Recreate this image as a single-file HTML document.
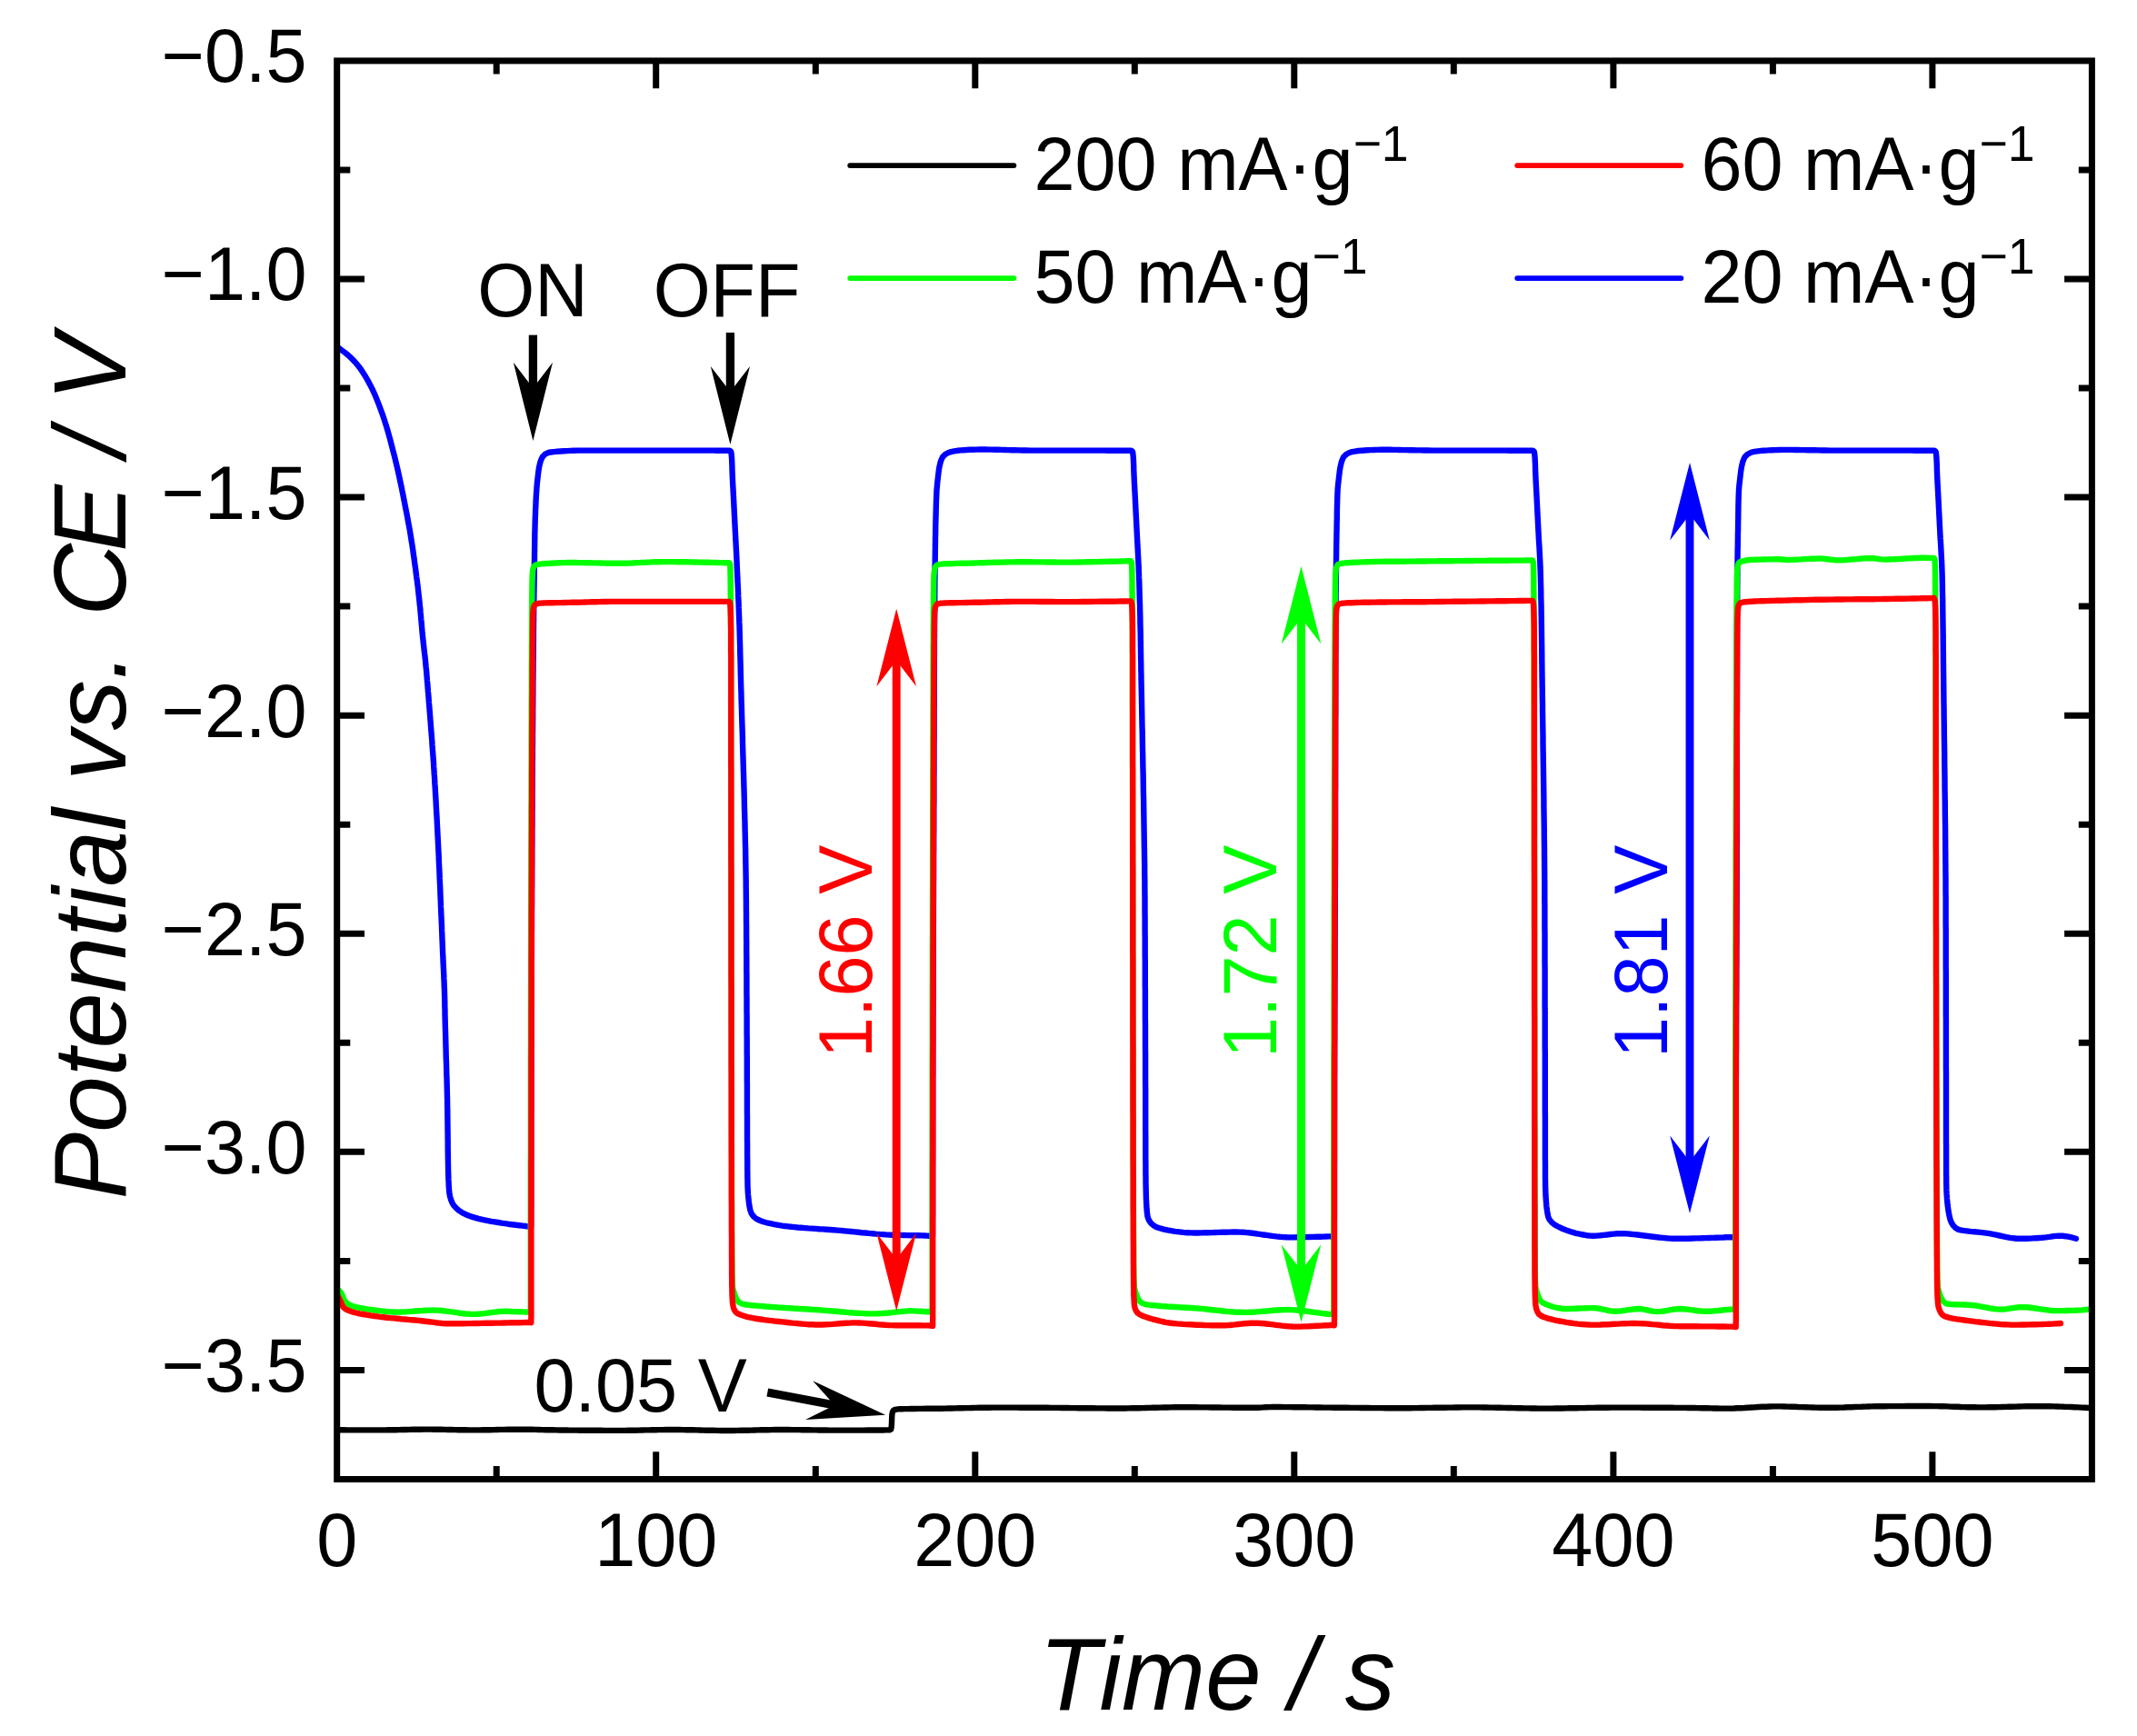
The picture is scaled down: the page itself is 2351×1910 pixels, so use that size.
<!DOCTYPE html>
<html lang="en"><head><meta charset="utf-8"><title>Potential vs. CE / V - Time / s</title>
<style>html,body{margin:0;padding:0;background:#fff}svg{display:block}text{font-family:"Liberation Sans",Arial,Helvetica,sans-serif;}</style></head><body>
<svg width="2351" height="1910" viewBox="0 0 2351 1910">
<rect width="2351" height="1910" fill="#fff"/>
<defs><clipPath id="pc"><rect x="370.7" y="66.9" width="1930.7" height="1560.6"/></clipPath></defs>
<g clip-path="url(#pc)" fill="none" stroke-width="6.4" stroke-linejoin="round" stroke-linecap="round">
<path stroke="#000" d="M370.7 1573.3 L374.5 1573.3 L378.3 1573.3 L382.0 1573.4 L385.8 1573.4 L389.6 1573.4 L393.4 1573.4 L397.2 1573.4 L401.0 1573.4 L404.8 1573.4 L408.6 1573.4 L412.4 1573.4 L416.2 1573.4 L420.0 1573.4 L423.8 1573.4 L427.7 1573.3 L431.5 1573.3 L435.4 1573.2 L439.2 1573.1 L443.1 1573.0 L446.9 1573.0 L450.8 1572.9 L454.6 1572.8 L458.5 1572.7 L462.3 1572.7 L466.2 1572.6 L470.0 1572.6 L473.8 1572.6 L477.7 1572.7 L481.5 1572.7 L485.4 1572.8 L489.2 1572.9 L493.1 1573.0 L496.9 1573.0 L500.8 1573.1 L504.6 1573.2 L508.5 1573.3 L512.3 1573.3 L516.2 1573.4 L520.0 1573.4 L523.8 1573.4 L527.7 1573.4 L531.5 1573.3 L535.4 1573.2 L539.2 1573.2 L543.1 1573.1 L546.9 1573.0 L550.8 1572.9 L554.6 1572.9 L558.5 1572.8 L562.3 1572.7 L566.2 1572.7 L570.0 1572.7 L573.8 1572.7 L577.6 1572.7 L581.4 1572.8 L585.2 1572.8 L589.0 1572.9 L592.8 1573.0 L596.6 1573.1 L600.4 1573.2 L604.3 1573.2 L608.2 1573.3 L612.1 1573.4 L616.0 1573.5 L620.0 1573.5 L623.6 1573.5 L627.2 1573.6 L630.9 1573.6 L634.6 1573.6 L638.3 1573.7 L642.1 1573.7 L645.9 1573.7 L649.7 1573.8 L653.5 1573.8 L657.3 1573.8 L661.1 1573.8 L664.9 1573.9 L668.7 1573.9 L672.5 1573.9 L676.2 1573.9 L680.0 1573.9 L683.8 1573.9 L687.5 1573.9 L691.3 1573.8 L695.0 1573.8 L698.8 1573.7 L702.5 1573.6 L706.3 1573.5 L710.0 1573.4 L713.8 1573.4 L717.5 1573.3 L721.3 1573.2 L725.0 1573.1 L728.8 1573.1 L732.5 1573.0 L736.3 1573.0 L740.0 1573.0 L743.8 1573.0 L747.5 1573.0 L751.3 1573.1 L755.0 1573.2 L758.8 1573.2 L762.5 1573.3 L766.3 1573.4 L770.0 1573.5 L773.8 1573.6 L777.5 1573.7 L781.3 1573.8 L785.0 1573.8 L788.8 1573.9 L792.5 1574.0 L796.3 1574.0 L800.0 1574.0 L803.7 1574.0 L807.5 1574.0 L811.2 1573.9 L815.0 1573.8 L818.7 1573.8 L822.5 1573.7 L826.2 1573.6 L830.0 1573.5 L833.7 1573.4 L837.5 1573.3 L841.2 1573.2 L845.0 1573.2 L848.7 1573.1 L852.5 1573.0 L856.2 1573.0 L860.0 1573.0 L863.8 1573.0 L867.5 1573.0 L871.3 1573.1 L875.0 1573.1 L878.8 1573.1 L882.6 1573.2 L886.4 1573.2 L890.1 1573.3 L893.9 1573.4 L897.7 1573.4 L901.4 1573.5 L905.1 1573.5 L908.9 1573.5 L912.6 1573.6 L916.3 1573.6 L920.0 1573.6 L923.9 1573.6 L928.1 1573.6 L932.4 1573.6 L936.9 1573.6 L941.4 1573.6 L945.8 1573.6 L950.3 1573.6 L954.5 1573.5 L958.6 1573.5 L962.5 1573.5 L966.1 1573.5 L969.2 1573.5 L972.0 1573.5 L974.3 1573.4 L976.0 1573.4 L978.7 1573.2 L980.2 1572.6 L980.7 1570.0 L981.0 1566.0 L981.1 1562.7 L981.2 1559.1 L981.4 1556.0 L982.0 1553.4 L983.0 1551.6 L984.9 1550.8 L988.0 1550.4 L989.9 1550.3 L992.3 1550.2 L995.1 1550.1 L998.4 1550.1 L1002.0 1550.0 L1005.9 1550.0 L1010.1 1549.9 L1014.3 1549.9 L1018.7 1549.8 L1023.1 1549.8 L1027.5 1549.8 L1031.9 1549.7 L1036.0 1549.7 L1040.0 1549.6 L1043.6 1549.5 L1047.3 1549.5 L1051.0 1549.4 L1054.7 1549.3 L1058.4 1549.2 L1062.2 1549.1 L1065.9 1549.1 L1069.7 1549.0 L1073.5 1548.9 L1077.3 1548.8 L1081.1 1548.8 L1084.9 1548.7 L1088.7 1548.7 L1092.5 1548.6 L1096.2 1548.6 L1100.0 1548.6 L1103.7 1548.6 L1107.5 1548.6 L1111.2 1548.6 L1114.9 1548.6 L1118.6 1548.6 L1122.3 1548.7 L1126.0 1548.7 L1129.7 1548.7 L1133.4 1548.7 L1137.2 1548.7 L1140.9 1548.8 L1144.7 1548.8 L1148.5 1548.8 L1152.3 1548.8 L1156.1 1548.9 L1160.0 1548.9 L1163.8 1548.9 L1167.5 1549.0 L1171.4 1549.0 L1175.2 1549.0 L1179.0 1549.1 L1182.9 1549.1 L1186.8 1549.2 L1190.7 1549.2 L1194.7 1549.3 L1198.6 1549.3 L1202.5 1549.3 L1206.5 1549.4 L1210.4 1549.4 L1214.3 1549.4 L1218.3 1549.5 L1222.2 1549.5 L1226.1 1549.5 L1230.0 1549.5 L1233.9 1549.5 L1237.8 1549.5 L1241.6 1549.4 L1245.5 1549.3 L1249.3 1549.3 L1253.2 1549.2 L1257.0 1549.1 L1260.9 1549.0 L1264.7 1548.9 L1268.6 1548.8 L1272.4 1548.7 L1276.3 1548.6 L1280.2 1548.5 L1284.1 1548.5 L1288.1 1548.4 L1292.0 1548.3 L1296.0 1548.3 L1300.0 1548.3 L1303.8 1548.3 L1307.6 1548.3 L1311.6 1548.3 L1315.7 1548.3 L1319.9 1548.4 L1324.1 1548.4 L1328.4 1548.4 L1332.6 1548.5 L1336.9 1548.5 L1341.1 1548.5 L1345.3 1548.6 L1349.4 1548.6 L1353.5 1548.6 L1357.4 1548.7 L1361.2 1548.7 L1364.8 1548.7 L1368.3 1548.8 L1371.5 1548.8 L1374.6 1548.8 L1377.4 1548.8 L1380.0 1548.8 L1383.9 1548.7 L1387.2 1548.6 L1390.1 1548.4 L1393.1 1548.2 L1396.2 1548.1 L1400.0 1548.0 L1402.8 1548.0 L1405.8 1548.0 L1409.0 1548.0 L1412.4 1548.1 L1415.9 1548.1 L1419.6 1548.1 L1423.4 1548.2 L1427.3 1548.2 L1431.3 1548.3 L1435.4 1548.3 L1439.5 1548.4 L1443.6 1548.4 L1447.7 1548.5 L1451.9 1548.5 L1456.0 1548.6 L1460.0 1548.6 L1463.6 1548.6 L1467.2 1548.7 L1470.8 1548.7 L1474.5 1548.7 L1478.2 1548.8 L1482.0 1548.8 L1485.8 1548.9 L1489.6 1548.9 L1493.5 1548.9 L1497.3 1549.0 L1501.2 1549.0 L1505.1 1549.0 L1509.0 1549.1 L1512.9 1549.1 L1516.8 1549.1 L1520.7 1549.1 L1524.6 1549.2 L1528.5 1549.2 L1532.3 1549.2 L1536.2 1549.2 L1540.0 1549.2 L1543.8 1549.2 L1547.6 1549.2 L1551.4 1549.2 L1555.2 1549.1 L1559.0 1549.1 L1562.9 1549.0 L1566.7 1549.0 L1570.5 1548.9 L1574.3 1548.9 L1578.1 1548.8 L1581.9 1548.8 L1585.7 1548.7 L1589.5 1548.7 L1593.3 1548.6 L1597.1 1548.6 L1601.0 1548.5 L1604.8 1548.5 L1608.6 1548.4 L1612.4 1548.4 L1616.2 1548.4 L1620.0 1548.4 L1623.8 1548.4 L1627.6 1548.4 L1631.4 1548.5 L1635.2 1548.5 L1639.0 1548.6 L1642.9 1548.6 L1646.7 1548.7 L1650.5 1548.8 L1654.3 1548.9 L1658.1 1549.0 L1661.9 1549.0 L1665.7 1549.1 L1669.5 1549.2 L1673.3 1549.3 L1677.1 1549.4 L1681.0 1549.4 L1684.8 1549.5 L1688.6 1549.5 L1692.4 1549.6 L1696.2 1549.6 L1700.0 1549.6 L1703.8 1549.6 L1707.6 1549.6 L1711.4 1549.5 L1715.2 1549.5 L1719.0 1549.5 L1722.9 1549.4 L1726.7 1549.3 L1730.5 1549.3 L1734.3 1549.2 L1738.1 1549.1 L1741.9 1549.1 L1745.7 1549.0 L1749.5 1548.9 L1753.3 1548.9 L1757.1 1548.8 L1761.0 1548.7 L1764.8 1548.7 L1768.6 1548.7 L1772.4 1548.6 L1776.2 1548.6 L1780.0 1548.6 L1783.8 1548.6 L1787.7 1548.6 L1791.7 1548.6 L1795.7 1548.6 L1799.7 1548.6 L1803.7 1548.6 L1807.7 1548.7 L1811.8 1548.7 L1815.8 1548.7 L1819.8 1548.7 L1823.8 1548.7 L1827.7 1548.8 L1831.6 1548.8 L1835.5 1548.8 L1839.2 1548.8 L1842.9 1548.9 L1846.6 1548.9 L1850.1 1548.9 L1853.5 1548.9 L1856.8 1549.0 L1860.0 1549.0 L1864.1 1549.0 L1868.0 1549.1 L1871.7 1549.2 L1875.2 1549.2 L1878.7 1549.3 L1882.1 1549.4 L1885.5 1549.5 L1889.0 1549.5 L1892.5 1549.6 L1896.2 1549.6 L1900.0 1549.6 L1903.7 1549.6 L1907.4 1549.5 L1911.2 1549.3 L1915.1 1549.2 L1919.0 1549.0 L1922.9 1548.7 L1926.9 1548.5 L1931.0 1548.3 L1935.0 1548.0 L1939.0 1547.8 L1943.1 1547.7 L1947.1 1547.5 L1951.0 1547.4 L1955.0 1547.4 L1958.9 1547.4 L1962.8 1547.5 L1966.7 1547.6 L1970.6 1547.7 L1974.5 1547.8 L1978.4 1548.0 L1982.4 1548.1 L1986.3 1548.2 L1990.2 1548.4 L1994.1 1548.5 L1998.1 1548.6 L2002.0 1548.7 L2006.0 1548.8 L2010.0 1548.8 L2013.7 1548.8 L2017.4 1548.7 L2021.2 1548.7 L2024.9 1548.6 L2028.7 1548.5 L2032.6 1548.3 L2036.4 1548.2 L2040.2 1548.0 L2044.0 1547.9 L2047.8 1547.8 L2051.6 1547.6 L2055.3 1547.5 L2059.1 1547.4 L2062.7 1547.3 L2066.4 1547.2 L2070.0 1547.2 L2074.0 1547.2 L2077.9 1547.1 L2081.8 1547.1 L2085.6 1547.1 L2089.4 1547.1 L2093.1 1547.1 L2096.9 1547.0 L2100.6 1547.0 L2104.4 1547.0 L2108.2 1547.0 L2112.1 1547.0 L2116.0 1547.0 L2120.0 1547.0 L2123.6 1547.0 L2127.2 1547.1 L2130.9 1547.1 L2134.6 1547.2 L2138.3 1547.3 L2142.1 1547.4 L2145.9 1547.6 L2149.7 1547.7 L2153.5 1547.8 L2157.3 1548.0 L2161.1 1548.1 L2164.9 1548.2 L2168.7 1548.3 L2172.5 1548.3 L2176.2 1548.4 L2180.0 1548.4 L2183.8 1548.4 L2187.5 1548.3 L2191.3 1548.3 L2195.0 1548.2 L2198.8 1548.1 L2202.5 1548.0 L2206.3 1547.9 L2210.1 1547.8 L2213.8 1547.7 L2217.6 1547.6 L2221.3 1547.5 L2225.1 1547.4 L2228.8 1547.3 L2232.5 1547.3 L2236.3 1547.2 L2240.0 1547.2 L2243.9 1547.2 L2247.8 1547.2 L2251.7 1547.3 L2255.6 1547.3 L2259.4 1547.4 L2263.3 1547.5 L2267.2 1547.6 L2271.1 1547.8 L2274.9 1547.9 L2278.8 1548.0 L2282.6 1548.2 L2286.5 1548.4 L2290.3 1548.6 L2294.2 1548.8 L2298.0 1549.0"/>
<path stroke="#0000ff" d="M368.0 379.4 L371.0 381.6 L374.2 384.0 L376.8 386.0 L379.6 388.0 L382.3 390.2 L385.0 392.6 L387.7 395.2 L390.3 398.0 L392.4 400.4 L394.5 403.0 L396.5 405.7 L398.4 408.4 L400.2 411.2 L402.0 414.1 L403.7 417.0 L405.3 419.9 L406.8 422.7 L408.3 425.6 L409.7 428.4 L411.1 431.4 L412.6 434.7 L414.0 438.1 L415.4 441.6 L416.8 445.2 L418.0 448.3 L419.2 451.6 L420.4 454.8 L421.5 458.1 L422.6 461.3 L423.8 465.1 L425.0 468.8 L426.1 472.5 L427.2 476.3 L428.1 479.7 L429.1 483.1 L430.0 486.6 L430.9 490.1 L431.8 493.6 L432.7 497.2 L433.7 500.9 L434.6 504.5 L435.5 508.2 L436.4 512.0 L437.2 515.4 L438.0 518.8 L438.7 522.2 L439.5 525.7 L440.2 529.3 L441.0 532.8 L441.8 536.5 L442.5 540.2 L443.3 543.9 L444.0 547.7 L444.8 551.7 L445.6 555.8 L446.2 559.0 L446.9 562.3 L447.5 565.7 L448.2 569.1 L448.8 572.6 L449.5 576.3 L450.2 580.0 L450.9 583.8 L451.5 587.8 L452.2 591.9 L452.7 595.2 L453.3 598.7 L453.8 602.3 L454.4 606.1 L454.9 610.0 L455.5 614.0 L456.0 618.0 L456.6 622.2 L457.2 626.3 L457.7 630.5 L458.2 634.6 L458.8 638.7 L459.3 642.7 L459.8 646.6 L460.2 650.5 L460.6 654.2 L461.0 657.7 L461.4 661.1 L461.8 665.4 L462.3 669.6 L462.6 673.7 L463.0 677.7 L463.3 681.5 L463.7 685.3 L464.0 689.0 L464.3 692.7 L464.6 696.4 L465.0 700.0 L465.4 703.9 L465.8 707.6 L466.2 711.2 L466.6 714.8 L467.0 718.4 L467.5 722.1 L467.9 726.0 L468.3 730.2 L468.6 733.6 L469.0 737.1 L469.3 740.8 L469.6 744.6 L469.9 748.5 L470.3 752.4 L470.6 756.5 L470.9 760.6 L471.3 764.7 L471.6 768.8 L471.9 773.0 L472.3 777.1 L472.6 781.2 L472.9 785.3 L473.2 789.1 L473.5 792.8 L473.8 796.6 L474.1 800.4 L474.4 804.2 L474.7 808.0 L475.0 811.8 L475.3 815.6 L475.5 819.5 L475.8 823.4 L476.1 827.3 L476.4 831.2 L476.7 835.2 L477.0 839.3 L477.2 843.4 L477.5 847.5 L477.7 851.2 L478.0 854.9 L478.2 858.7 L478.4 862.5 L478.7 866.4 L478.9 870.3 L479.1 874.3 L479.4 878.2 L479.6 882.2 L479.8 886.2 L480.0 890.3 L480.2 894.3 L480.5 898.4 L480.7 902.4 L480.9 906.4 L481.1 910.5 L481.3 914.5 L481.5 918.5 L481.7 922.5 L481.9 926.5 L482.1 930.4 L482.3 934.3 L482.5 938.3 L482.7 942.3 L482.8 946.3 L483.0 950.3 L483.2 954.4 L483.4 958.5 L483.6 962.6 L483.7 966.7 L483.9 970.7 L484.1 974.7 L484.3 978.7 L484.4 982.6 L484.6 986.5 L484.7 990.3 L484.9 994.0 L485.0 997.7 L485.2 1001.2 L485.3 1004.6 L485.5 1007.9 L485.6 1011.1 L485.8 1015.5 L486.0 1019.7 L486.1 1023.7 L486.3 1027.5 L486.4 1031.3 L486.6 1035.0 L486.7 1038.6 L486.9 1042.3 L487.0 1046.1 L487.2 1050.0 L487.4 1053.7 L487.5 1057.5 L487.7 1061.3 L487.9 1065.2 L488.1 1069.0 L488.3 1072.9 L488.4 1076.7 L488.6 1080.5 L488.7 1084.3 L488.9 1088.0 L489.0 1091.7 L489.1 1095.3 L489.2 1098.8 L489.3 1102.3 L489.3 1105.6 L489.4 1109.0 L489.5 1112.4 L489.5 1116.0 L489.6 1119.7 L489.7 1123.6 L489.8 1127.8 L489.9 1130.9 L490.0 1134.2 L490.1 1137.6 L490.2 1141.2 L490.3 1144.9 L490.4 1148.8 L490.5 1152.7 L490.6 1156.8 L490.7 1160.9 L490.8 1165.1 L491.0 1169.3 L491.1 1173.5 L491.2 1177.8 L491.3 1182.1 L491.5 1186.4 L491.6 1190.6 L491.7 1194.9 L491.8 1199.0 L491.9 1203.1 L492.0 1207.1 L492.1 1211.0 L492.1 1214.8 L492.2 1218.5 L492.3 1222.7 L492.3 1226.9 L492.4 1231.2 L492.4 1235.5 L492.5 1239.9 L492.5 1244.2 L492.6 1248.4 L492.6 1252.6 L492.7 1256.7 L492.7 1260.7 L492.7 1264.5 L492.8 1268.2 L492.8 1271.7 L492.9 1275.0 L492.9 1278.0 L493.0 1280.8 L493.0 1283.3 L493.1 1287.5 L493.2 1291.0 L493.3 1294.3 L493.4 1297.7 L493.6 1301.3 L493.7 1305.0 L494.0 1308.6 L494.3 1312.1 L495.0 1316.1 L496.1 1320.0 L497.6 1323.6 L499.3 1326.4 L501.8 1329.1 L504.6 1331.6 L507.7 1333.7 L510.3 1335.2 L513.2 1336.5 L516.3 1337.8 L519.6 1338.9 L523.0 1339.9 L526.5 1340.9 L529.8 1341.7 L533.2 1342.4 L536.9 1343.1 L540.6 1343.8 L544.3 1344.4 L548.1 1345.0 L551.7 1345.6 L555.3 1346.1 L559.2 1346.7 L563.3 1347.2 L567.4 1347.7 L571.4 1348.2 L575.0 1348.6 L578.1 1349.0 L580.4 1349.3 L582.9 1349.6 L584.1 1349.8 L584.1 1349.6 L584.1 1349.1 L584.2 1348.1 L584.2 1346.9 L584.2 1345.3 L584.2 1343.4 L584.2 1341.2 L584.2 1338.8 L584.2 1336.0 L584.2 1333.0 L584.2 1329.8 L584.3 1326.3 L584.3 1322.6 L584.3 1318.7 L584.3 1314.6 L584.3 1310.3 L584.3 1305.9 L584.3 1301.3 L584.3 1296.6 L584.3 1291.8 L584.3 1286.9 L584.3 1281.8 L584.3 1276.7 L584.3 1271.6 L584.3 1266.3 L584.3 1261.1 L584.3 1255.8 L584.3 1250.5 L584.3 1245.2 L584.3 1239.9 L584.3 1234.7 L584.3 1229.5 L584.4 1224.3 L584.4 1219.3 L584.4 1214.3 L584.4 1209.4 L584.4 1204.6 L584.4 1200.0 L584.4 1193.8 L584.4 1187.4 L584.4 1180.8 L584.5 1174.1 L584.5 1167.2 L584.5 1160.3 L584.5 1153.1 L584.5 1145.9 L584.6 1138.6 L584.6 1131.1 L584.6 1123.6 L584.6 1116.0 L584.7 1108.3 L584.7 1100.5 L584.7 1092.7 L584.7 1084.8 L584.8 1076.8 L584.8 1068.9 L584.8 1060.9 L584.9 1052.8 L584.9 1044.8 L584.9 1036.8 L584.9 1028.7 L585.0 1020.7 L585.0 1012.7 L585.0 1004.7 L585.1 996.7 L585.1 988.8 L585.1 980.9 L585.2 973.1 L585.2 965.4 L585.2 957.7 L585.3 950.1 L585.3 942.6 L585.3 935.3 L585.4 928.0 L585.4 920.8 L585.4 913.7 L585.5 906.8 L585.5 900.0 L585.5 894.5 L585.6 889.0 L585.6 883.5 L585.6 878.0 L585.6 872.5 L585.7 867.0 L585.7 861.5 L585.7 856.0 L585.8 850.5 L585.8 845.0 L585.8 839.6 L585.9 834.2 L585.9 828.7 L585.9 823.4 L586.0 818.0 L586.0 812.7 L586.0 807.4 L586.1 802.1 L586.1 796.9 L586.2 791.7 L586.2 786.5 L586.2 781.4 L586.3 776.3 L586.3 771.3 L586.3 766.4 L586.4 761.5 L586.4 756.6 L586.4 751.8 L586.5 747.1 L586.5 742.4 L586.6 737.8 L586.6 733.3 L586.6 728.9 L586.7 724.5 L586.7 720.2 L586.8 716.0 L586.8 711.9 L586.8 707.8 L586.9 703.9 L586.9 700.0 L586.9 695.4 L587.0 690.9 L587.0 686.5 L587.1 682.2 L587.1 677.9 L587.2 673.7 L587.2 669.6 L587.3 665.5 L587.3 661.6 L587.4 657.7 L587.4 653.8 L587.5 650.1 L587.5 646.4 L587.6 642.8 L587.6 639.3 L587.7 635.8 L587.7 632.4 L587.8 629.1 L587.8 625.8 L587.9 622.6 L587.9 619.5 L588.0 615.2 L588.0 611.0 L588.1 607.1 L588.1 603.3 L588.2 599.6 L588.2 596.0 L588.3 592.4 L588.3 588.8 L588.4 585.1 L588.5 581.4 L588.6 577.5 L588.7 573.6 L588.8 569.6 L589.0 565.5 L589.1 561.5 L589.3 557.6 L589.5 553.8 L589.6 550.1 L589.8 546.6 L590.0 543.4 L590.3 539.1 L590.6 535.2 L590.9 531.4 L591.3 527.8 L591.7 524.4 L592.1 521.0 L592.5 517.7 L593.0 514.6 L593.6 511.7 L594.4 508.4 L595.5 505.4 L596.8 502.8 L599.5 499.9 L603.1 498.0 L606.0 497.5 L609.3 497.1 L613.0 496.8 L616.9 496.5 L620.3 496.3 L623.8 496.1 L627.4 495.9 L631.3 495.7 L635.5 495.6 L639.9 495.6 L642.8 495.6 L645.9 495.6 L649.2 495.6 L652.5 495.6 L656.0 495.6 L659.6 495.6 L663.3 495.6 L667.2 495.6 L671.1 495.6 L675.0 495.6 L679.1 495.6 L683.2 495.6 L687.4 495.6 L691.6 495.6 L695.9 495.6 L699.3 495.6 L703.1 495.6 L707.0 495.6 L711.3 495.6 L715.7 495.6 L720.3 495.6 L725.0 495.6 L729.9 495.6 L734.8 495.6 L739.7 495.6 L744.7 495.6 L749.7 495.6 L754.6 495.6 L759.5 495.6 L764.2 495.6 L768.8 495.6 L773.3 495.6 L777.5 495.6 L781.5 495.6 L785.3 495.6 L788.7 495.7 L791.9 495.7 L794.7 495.7 L797.1 495.7 L799.1 495.7 L800.6 495.7 L801.7 495.7 L803.1 496.0 L804.0 496.6 L804.4 497.8 L804.7 500.2 L805.0 503.5 L805.2 507.4 L805.4 511.9 L805.5 516.7 L805.7 521.6 L805.9 526.3 L806.1 530.7 L806.3 534.3 L806.5 537.9 L806.7 541.7 L806.9 545.5 L807.1 549.4 L807.3 553.4 L807.5 557.4 L807.7 561.4 L807.9 565.5 L808.1 569.5 L808.3 573.5 L808.5 577.5 L808.7 581.4 L808.9 585.3 L809.1 589.1 L809.3 593.0 L809.5 596.8 L809.7 600.6 L809.9 604.5 L810.1 608.3 L810.3 612.2 L810.5 616.1 L810.6 620.0 L810.8 624.0 L811.0 628.0 L811.2 632.1 L811.4 635.9 L811.5 639.8 L811.7 643.7 L811.9 647.7 L812.1 651.8 L812.2 655.9 L812.4 660.0 L812.6 664.1 L812.7 668.2 L812.9 672.2 L813.0 676.3 L813.2 680.3 L813.3 684.2 L813.5 688.1 L813.6 691.8 L813.7 695.5 L813.8 699.4 L813.9 703.0 L814.0 706.5 L814.1 709.8 L814.2 713.1 L814.2 716.4 L814.3 719.8 L814.4 723.3 L814.5 727.0 L814.6 731.0 L814.7 735.3 L814.8 740.0 L814.9 743.6 L815.0 747.5 L815.1 751.6 L815.2 756.0 L815.4 760.6 L815.5 765.5 L815.6 770.5 L815.8 775.8 L816.0 781.3 L816.1 786.9 L816.3 792.7 L816.5 798.7 L816.7 804.8 L816.9 811.1 L817.0 817.5 L817.2 824.0 L817.4 830.6 L817.6 837.2 L817.8 844.0 L818.0 850.8 L818.2 857.7 L818.4 864.6 L818.6 871.5 L818.8 878.5 L818.9 885.4 L819.1 892.4 L819.3 899.3 L819.5 906.2 L819.6 913.0 L819.8 919.8 L819.9 926.5 L820.1 933.2 L820.2 939.7 L820.3 946.2 L820.4 952.5 L820.5 958.7 L820.6 964.8 L820.7 970.7 L820.7 976.4 L820.8 982.0 L820.8 986.6 L820.9 991.1 L820.9 995.6 L820.9 1000.0 L821.0 1004.5 L821.0 1008.9 L821.0 1013.3 L821.1 1017.6 L821.1 1022.0 L821.1 1026.3 L821.1 1030.6 L821.2 1034.9 L821.2 1039.1 L821.2 1043.4 L821.2 1047.6 L821.3 1051.8 L821.3 1056.0 L821.3 1060.1 L821.3 1064.3 L821.3 1068.4 L821.4 1072.6 L821.4 1076.7 L821.4 1080.8 L821.4 1084.9 L821.4 1089.0 L821.4 1093.1 L821.5 1097.2 L821.5 1101.2 L821.5 1105.3 L821.5 1109.4 L821.5 1113.4 L821.6 1117.5 L821.6 1121.5 L821.6 1125.6 L821.6 1129.7 L821.6 1133.7 L821.6 1137.8 L821.7 1141.9 L821.7 1145.9 L821.7 1150.0 L821.7 1154.1 L821.7 1158.3 L821.8 1162.5 L821.8 1166.7 L821.8 1171.1 L821.8 1175.4 L821.8 1179.8 L821.8 1184.2 L821.8 1188.7 L821.9 1193.1 L821.9 1197.6 L821.9 1202.1 L821.9 1206.6 L821.9 1211.0 L821.9 1215.5 L821.9 1219.9 L821.9 1224.3 L822.0 1228.7 L822.0 1233.0 L822.0 1237.3 L822.0 1241.6 L822.0 1245.7 L822.0 1249.9 L822.0 1253.9 L822.1 1257.9 L822.1 1261.8 L822.1 1265.6 L822.1 1269.3 L822.1 1272.9 L822.2 1276.4 L822.2 1279.8 L822.2 1283.1 L822.2 1286.3 L822.3 1289.3 L822.3 1292.2 L822.3 1295.0 L822.4 1297.6 L822.4 1300.0 L822.5 1305.0 L822.7 1309.8 L823.0 1314.3 L823.4 1318.4 L823.8 1322.2 L824.3 1325.7 L824.8 1328.8 L825.4 1331.5 L826.7 1335.1 L828.8 1338.1 L831.4 1340.5 L833.6 1341.8 L836.4 1343.0 L839.7 1344.2 L843.5 1345.3 L847.6 1346.2 L851.9 1347.1 L856.3 1347.9 L860.6 1348.6 L863.7 1349.0 L867.0 1349.4 L870.5 1349.8 L874.0 1350.1 L877.7 1350.5 L881.5 1350.8 L885.4 1351.1 L889.4 1351.4 L893.3 1351.6 L897.4 1351.9 L901.4 1352.2 L905.4 1352.4 L909.4 1352.7 L913.4 1353.0 L917.3 1353.3 L921.1 1353.6 L924.9 1353.9 L928.7 1354.3 L932.6 1354.6 L936.5 1355.0 L940.4 1355.4 L944.3 1355.8 L948.2 1356.2 L952.1 1356.5 L956.0 1356.9 L959.8 1357.2 L963.6 1357.6 L967.4 1357.9 L971.0 1358.1 L974.6 1358.4 L978.2 1358.6 L981.6 1358.7 L985.7 1358.8 L990.0 1358.9 L994.4 1359.0 L998.7 1359.1 L1003.0 1359.2 L1007.1 1359.3 L1010.9 1359.3 L1014.4 1359.4 L1017.4 1359.5 L1020.0 1359.6 L1021.9 1359.7 L1024.6 1360.0 L1025.9 1360.2 L1025.9 1360.0 L1025.9 1359.5 L1026.0 1358.6 L1026.0 1357.4 L1026.0 1355.8 L1026.0 1354.0 L1026.0 1351.8 L1026.0 1349.4 L1026.0 1346.7 L1026.0 1343.8 L1026.0 1340.6 L1026.1 1337.2 L1026.1 1333.5 L1026.1 1329.7 L1026.1 1325.7 L1026.1 1321.4 L1026.1 1317.1 L1026.1 1312.5 L1026.1 1307.9 L1026.1 1303.1 L1026.1 1298.1 L1026.1 1293.1 L1026.1 1288.0 L1026.1 1282.8 L1026.1 1277.6 L1026.1 1272.3 L1026.1 1267.0 L1026.1 1261.6 L1026.1 1256.2 L1026.1 1250.9 L1026.1 1245.5 L1026.1 1240.2 L1026.1 1234.9 L1026.2 1229.6 L1026.2 1224.5 L1026.2 1219.4 L1026.2 1214.4 L1026.2 1209.4 L1026.2 1204.7 L1026.2 1200.0 L1026.2 1193.6 L1026.2 1187.1 L1026.3 1180.5 L1026.3 1173.7 L1026.3 1166.7 L1026.3 1159.7 L1026.3 1152.5 L1026.4 1145.2 L1026.4 1137.9 L1026.4 1130.4 L1026.4 1122.8 L1026.5 1115.2 L1026.5 1107.5 L1026.5 1099.7 L1026.6 1091.9 L1026.6 1084.0 L1026.6 1076.1 L1026.6 1068.2 L1026.7 1060.2 L1026.7 1052.2 L1026.7 1044.2 L1026.8 1036.2 L1026.8 1028.2 L1026.8 1020.2 L1026.9 1012.2 L1026.9 1004.3 L1026.9 996.3 L1027.0 988.5 L1027.0 980.7 L1027.0 972.9 L1027.1 965.2 L1027.1 957.6 L1027.1 950.0 L1027.1 942.5 L1027.2 935.2 L1027.2 927.9 L1027.2 920.7 L1027.3 913.7 L1027.3 906.8 L1027.3 900.0 L1027.3 894.5 L1027.3 889.0 L1027.4 883.5 L1027.4 878.0 L1027.4 872.5 L1027.4 867.0 L1027.4 861.5 L1027.4 856.0 L1027.5 850.5 L1027.5 845.0 L1027.5 839.6 L1027.5 834.2 L1027.5 828.7 L1027.5 823.4 L1027.5 818.0 L1027.6 812.7 L1027.6 807.4 L1027.6 802.1 L1027.6 796.9 L1027.6 791.7 L1027.6 786.5 L1027.6 781.4 L1027.7 776.3 L1027.7 771.3 L1027.7 766.4 L1027.7 761.5 L1027.7 756.6 L1027.7 751.8 L1027.8 747.1 L1027.8 742.4 L1027.8 737.8 L1027.8 733.3 L1027.8 728.9 L1027.8 724.5 L1027.9 720.2 L1027.9 716.0 L1027.9 711.9 L1027.9 707.8 L1027.9 703.9 L1028.0 700.0 L1028.0 695.4 L1028.0 690.9 L1028.0 686.5 L1028.1 682.2 L1028.1 677.9 L1028.1 673.7 L1028.2 669.6 L1028.2 665.5 L1028.2 661.6 L1028.3 657.7 L1028.3 653.8 L1028.3 650.1 L1028.4 646.4 L1028.4 642.8 L1028.4 639.3 L1028.5 635.8 L1028.5 632.4 L1028.5 629.1 L1028.6 625.8 L1028.6 622.6 L1028.7 619.5 L1028.7 615.2 L1028.8 611.0 L1028.8 607.1 L1028.9 603.3 L1028.9 599.6 L1029.0 596.0 L1029.0 592.4 L1029.1 588.8 L1029.2 585.1 L1029.2 581.4 L1029.3 577.5 L1029.4 573.6 L1029.5 569.6 L1029.6 565.5 L1029.7 561.5 L1029.8 557.6 L1029.9 553.8 L1030.0 550.1 L1030.2 546.6 L1030.3 543.4 L1030.5 539.1 L1030.9 535.2 L1031.2 531.4 L1031.6 527.8 L1032.0 524.4 L1032.4 521.0 L1032.8 517.7 L1033.3 514.6 L1033.9 511.7 L1034.7 508.4 L1035.8 505.4 L1037.1 502.8 L1039.8 500.0 L1043.4 498.0 L1046.3 497.1 L1049.6 496.4 L1053.3 495.8 L1057.2 495.4 L1060.2 495.2 L1063.4 495.0 L1066.7 494.8 L1070.2 494.7 L1073.8 494.6 L1077.7 494.5 L1081.7 494.5 L1084.7 494.5 L1087.8 494.6 L1091.1 494.6 L1094.5 494.7 L1098.0 494.8 L1101.6 494.9 L1105.3 495.0 L1109.1 495.1 L1112.9 495.2 L1116.9 495.3 L1120.9 495.4 L1125.1 495.5 L1129.2 495.5 L1133.4 495.6 L1137.7 495.6 L1141.1 495.6 L1144.9 495.6 L1148.8 495.6 L1153.1 495.6 L1157.5 495.6 L1162.1 495.6 L1166.8 495.6 L1171.7 495.6 L1176.6 495.6 L1181.5 495.6 L1186.5 495.6 L1191.5 495.6 L1196.4 495.6 L1201.3 495.6 L1206.0 495.6 L1210.6 495.6 L1215.1 495.6 L1219.3 495.7 L1223.3 495.7 L1227.1 495.7 L1230.5 495.7 L1233.7 495.7 L1236.5 495.7 L1238.9 495.7 L1240.9 495.7 L1242.4 495.7 L1243.5 495.7 L1244.9 496.0 L1245.8 496.6 L1246.2 497.8 L1246.5 500.2 L1246.8 503.5 L1247.0 507.4 L1247.2 511.9 L1247.3 516.7 L1247.5 521.6 L1247.7 526.3 L1247.9 530.7 L1248.1 534.3 L1248.3 537.9 L1248.5 541.7 L1248.7 545.5 L1248.9 549.4 L1249.1 553.4 L1249.3 557.4 L1249.5 561.4 L1249.7 565.5 L1249.9 569.5 L1250.1 573.5 L1250.3 577.5 L1250.5 581.4 L1250.7 585.3 L1250.9 589.1 L1251.1 593.0 L1251.3 596.8 L1251.5 600.6 L1251.7 604.5 L1251.9 608.3 L1252.1 612.2 L1252.3 616.1 L1252.5 620.0 L1252.7 624.0 L1252.8 628.0 L1253.0 632.1 L1253.1 635.9 L1253.3 639.8 L1253.4 643.7 L1253.5 647.7 L1253.6 651.8 L1253.7 655.9 L1253.8 660.0 L1254.0 664.1 L1254.1 668.2 L1254.2 672.2 L1254.3 676.3 L1254.4 680.3 L1254.4 684.2 L1254.5 688.1 L1254.6 691.8 L1254.7 695.5 L1254.8 699.4 L1254.8 703.0 L1254.9 706.5 L1254.9 709.8 L1255.0 713.1 L1255.0 716.4 L1255.1 719.8 L1255.1 723.3 L1255.2 727.0 L1255.3 731.0 L1255.3 735.3 L1255.4 740.0 L1255.5 743.6 L1255.5 747.5 L1255.6 751.6 L1255.7 756.0 L1255.8 760.6 L1255.9 765.5 L1256.0 770.5 L1256.1 775.8 L1256.2 781.3 L1256.3 786.9 L1256.4 792.7 L1256.5 798.7 L1256.7 804.8 L1256.8 811.1 L1256.9 817.5 L1257.0 824.0 L1257.2 830.6 L1257.3 837.3 L1257.4 844.0 L1257.6 850.8 L1257.7 857.7 L1257.8 864.6 L1257.9 871.5 L1258.1 878.5 L1258.2 885.4 L1258.3 892.4 L1258.4 899.3 L1258.5 906.2 L1258.6 913.0 L1258.7 919.8 L1258.8 926.5 L1258.9 933.2 L1259.0 939.7 L1259.1 946.2 L1259.2 952.5 L1259.2 958.7 L1259.3 964.8 L1259.4 970.7 L1259.4 976.4 L1259.4 982.0 L1259.5 986.6 L1259.5 991.1 L1259.5 995.6 L1259.5 1000.0 L1259.5 1004.5 L1259.6 1008.9 L1259.6 1013.3 L1259.6 1017.6 L1259.6 1022.0 L1259.6 1026.3 L1259.7 1030.6 L1259.7 1034.9 L1259.7 1039.1 L1259.7 1043.4 L1259.7 1047.6 L1259.7 1051.8 L1259.8 1056.0 L1259.8 1060.1 L1259.8 1064.3 L1259.8 1068.4 L1259.8 1072.6 L1259.8 1076.7 L1259.8 1080.8 L1259.8 1084.9 L1259.9 1089.0 L1259.9 1093.1 L1259.9 1097.2 L1259.9 1101.2 L1259.9 1105.3 L1259.9 1109.4 L1259.9 1113.4 L1259.9 1117.5 L1259.9 1121.5 L1260.0 1125.6 L1260.0 1129.7 L1260.0 1133.7 L1260.0 1137.8 L1260.0 1141.9 L1260.0 1145.9 L1260.0 1150.0 L1260.0 1154.1 L1260.1 1158.2 L1260.1 1162.4 L1260.1 1166.7 L1260.1 1170.9 L1260.1 1175.3 L1260.1 1179.6 L1260.1 1184.0 L1260.1 1188.4 L1260.1 1192.8 L1260.2 1197.2 L1260.2 1201.6 L1260.2 1206.0 L1260.2 1210.4 L1260.2 1214.8 L1260.2 1219.2 L1260.2 1223.5 L1260.2 1227.8 L1260.2 1232.1 L1260.2 1236.4 L1260.2 1240.6 L1260.2 1244.7 L1260.3 1248.8 L1260.3 1252.8 L1260.3 1256.8 L1260.3 1260.7 L1260.3 1264.5 L1260.3 1268.3 L1260.3 1271.9 L1260.3 1275.5 L1260.4 1279.0 L1260.4 1282.3 L1260.4 1285.6 L1260.4 1288.7 L1260.4 1291.7 L1260.5 1294.6 L1260.5 1297.4 L1260.5 1300.0 L1260.6 1304.8 L1260.7 1309.5 L1260.8 1314.0 L1260.9 1318.3 L1261.1 1322.3 L1261.3 1326.1 L1261.5 1329.6 L1261.8 1332.9 L1262.1 1335.8 L1262.5 1338.4 L1263.7 1342.0 L1265.8 1345.3 L1268.7 1348.0 L1271.9 1349.9 L1274.2 1350.8 L1277.2 1351.7 L1280.6 1352.6 L1284.3 1353.4 L1288.4 1354.1 L1292.7 1354.8 L1297.2 1355.4 L1301.7 1355.9 L1306.1 1356.2 L1310.4 1356.4 L1314.5 1356.5 L1318.2 1356.5 L1322.0 1356.4 L1325.7 1356.3 L1329.4 1356.2 L1333.2 1356.1 L1336.9 1356.0 L1340.7 1355.9 L1344.6 1355.8 L1348.4 1355.7 L1352.3 1355.6 L1356.3 1355.5 L1360.3 1355.5 L1364.0 1355.6 L1367.9 1355.8 L1371.8 1356.1 L1375.7 1356.5 L1379.7 1357.0 L1383.8 1357.6 L1387.8 1358.2 L1391.9 1358.7 L1396.0 1359.3 L1400.0 1359.9 L1404.0 1360.4 L1407.9 1360.8 L1411.8 1361.1 L1415.6 1361.3 L1419.3 1361.4 L1423.4 1361.4 L1427.6 1361.3 L1432.0 1361.2 L1436.4 1361.1 L1440.7 1361.0 L1444.9 1360.9 L1449.0 1360.8 L1452.7 1360.7 L1456.1 1360.6 L1459.1 1360.5 L1461.6 1360.4 L1463.5 1360.4 L1466.3 1360.7 L1467.7 1360.9 L1467.7 1360.7 L1467.7 1360.2 L1467.8 1359.3 L1467.8 1358.1 L1467.8 1356.5 L1467.8 1354.6 L1467.8 1352.5 L1467.8 1350.1 L1467.8 1347.4 L1467.8 1344.4 L1467.8 1341.2 L1467.9 1337.8 L1467.9 1334.1 L1467.9 1330.2 L1467.9 1326.2 L1467.9 1322.0 L1467.9 1317.6 L1467.9 1313.0 L1467.9 1308.3 L1467.9 1303.5 L1467.9 1298.5 L1467.9 1293.5 L1467.9 1288.4 L1467.9 1283.2 L1467.9 1277.9 L1467.9 1272.6 L1467.9 1267.2 L1467.9 1261.8 L1467.9 1256.5 L1467.9 1251.1 L1467.9 1245.7 L1467.9 1240.3 L1467.9 1235.0 L1468.0 1229.7 L1468.0 1224.6 L1468.0 1219.4 L1468.0 1214.4 L1468.0 1209.5 L1468.0 1204.7 L1468.0 1200.0 L1468.0 1193.6 L1468.0 1187.1 L1468.1 1180.4 L1468.1 1173.6 L1468.1 1166.7 L1468.1 1159.6 L1468.1 1152.5 L1468.2 1145.2 L1468.2 1137.8 L1468.2 1130.3 L1468.3 1122.8 L1468.3 1115.1 L1468.3 1107.4 L1468.4 1099.7 L1468.4 1091.8 L1468.4 1084.0 L1468.5 1076.1 L1468.5 1068.1 L1468.5 1060.1 L1468.6 1052.1 L1468.6 1044.1 L1468.6 1036.1 L1468.7 1028.1 L1468.7 1020.1 L1468.7 1012.2 L1468.8 1004.2 L1468.8 996.3 L1468.8 988.5 L1468.8 980.6 L1468.9 972.9 L1468.9 965.2 L1468.9 957.6 L1469.0 950.0 L1469.0 942.5 L1469.0 935.2 L1469.0 927.9 L1469.1 920.7 L1469.1 913.7 L1469.1 906.8 L1469.1 900.0 L1469.1 894.5 L1469.1 889.0 L1469.1 883.5 L1469.1 878.0 L1469.1 872.5 L1469.2 867.0 L1469.2 861.5 L1469.2 856.0 L1469.2 850.5 L1469.2 845.0 L1469.2 839.6 L1469.2 834.2 L1469.2 828.7 L1469.2 823.4 L1469.2 818.0 L1469.2 812.7 L1469.2 807.4 L1469.2 802.1 L1469.2 796.9 L1469.2 791.7 L1469.3 786.5 L1469.3 781.4 L1469.3 776.3 L1469.3 771.3 L1469.3 766.4 L1469.3 761.5 L1469.3 756.6 L1469.3 751.8 L1469.3 747.1 L1469.3 742.4 L1469.3 737.8 L1469.3 733.3 L1469.3 728.9 L1469.3 724.5 L1469.3 720.2 L1469.4 716.0 L1469.4 711.9 L1469.4 707.8 L1469.4 703.9 L1469.4 700.0 L1469.4 695.4 L1469.4 690.9 L1469.4 686.5 L1469.5 682.2 L1469.5 677.9 L1469.5 673.7 L1469.5 669.6 L1469.6 665.5 L1469.6 661.6 L1469.6 657.7 L1469.6 653.8 L1469.7 650.1 L1469.7 646.4 L1469.7 642.8 L1469.8 639.3 L1469.8 635.8 L1469.8 632.4 L1469.9 629.1 L1469.9 625.8 L1469.9 622.6 L1470.0 619.5 L1470.0 615.2 L1470.1 611.0 L1470.1 607.1 L1470.2 603.3 L1470.2 599.6 L1470.3 596.0 L1470.4 592.4 L1470.4 588.8 L1470.5 585.1 L1470.6 581.4 L1470.6 577.5 L1470.7 573.6 L1470.8 569.6 L1470.8 565.5 L1470.9 561.5 L1471.0 557.6 L1471.1 553.8 L1471.2 550.1 L1471.3 546.6 L1471.4 543.4 L1471.6 539.1 L1471.9 535.2 L1472.3 531.4 L1472.7 527.8 L1473.1 524.4 L1473.5 521.0 L1473.9 517.7 L1474.4 514.6 L1475.0 511.7 L1475.8 508.4 L1476.9 505.4 L1478.2 502.8 L1480.9 500.0 L1484.5 498.0 L1487.4 497.2 L1490.7 496.6 L1494.4 496.0 L1498.3 495.7 L1501.4 495.5 L1504.6 495.3 L1508.1 495.1 L1511.6 495.0 L1515.4 494.9 L1519.3 494.8 L1523.5 494.8 L1526.5 494.8 L1529.7 494.8 L1532.9 494.9 L1536.3 494.9 L1539.8 495.0 L1543.4 495.1 L1547.1 495.1 L1550.9 495.2 L1554.8 495.3 L1558.7 495.4 L1562.8 495.4 L1566.9 495.5 L1571.0 495.5 L1575.2 495.6 L1579.5 495.6 L1582.9 495.6 L1586.7 495.6 L1590.6 495.6 L1594.9 495.6 L1599.3 495.6 L1603.9 495.6 L1608.6 495.6 L1613.5 495.6 L1618.4 495.6 L1623.3 495.6 L1628.3 495.6 L1633.3 495.6 L1638.2 495.6 L1643.1 495.6 L1647.8 495.6 L1652.4 495.6 L1656.9 495.6 L1661.1 495.7 L1665.1 495.7 L1668.9 495.7 L1672.3 495.7 L1675.5 495.7 L1678.3 495.7 L1680.7 495.7 L1682.7 495.7 L1684.2 495.7 L1685.3 495.7 L1686.7 496.0 L1687.6 496.6 L1688.0 497.8 L1688.3 500.2 L1688.6 503.5 L1688.8 507.4 L1689.0 511.9 L1689.1 516.7 L1689.3 521.6 L1689.5 526.3 L1689.7 530.7 L1689.9 534.3 L1690.1 537.9 L1690.3 541.7 L1690.5 545.5 L1690.7 549.4 L1690.9 553.4 L1691.1 557.4 L1691.3 561.4 L1691.5 565.5 L1691.7 569.5 L1691.9 573.5 L1692.1 577.5 L1692.3 581.4 L1692.5 585.3 L1692.7 589.1 L1692.9 593.0 L1693.1 596.8 L1693.4 600.6 L1693.6 604.5 L1693.8 608.3 L1694.0 612.2 L1694.2 616.1 L1694.4 620.0 L1694.5 624.0 L1694.7 628.0 L1694.8 632.1 L1694.9 635.9 L1695.0 639.8 L1695.1 643.7 L1695.2 647.7 L1695.3 651.8 L1695.3 655.8 L1695.4 660.0 L1695.5 664.1 L1695.6 668.2 L1695.6 672.2 L1695.7 676.3 L1695.8 680.3 L1695.8 684.2 L1695.9 688.1 L1695.9 691.8 L1696.0 695.5 L1696.0 699.4 L1696.1 703.0 L1696.1 706.5 L1696.2 709.8 L1696.2 713.1 L1696.2 716.4 L1696.3 719.8 L1696.3 723.3 L1696.3 727.0 L1696.4 731.0 L1696.4 735.3 L1696.5 740.0 L1696.5 743.6 L1696.6 747.5 L1696.6 751.6 L1696.7 756.0 L1696.8 760.6 L1696.8 765.5 L1696.9 770.5 L1697.0 775.8 L1697.0 781.3 L1697.1 786.9 L1697.2 792.7 L1697.3 798.7 L1697.4 804.8 L1697.5 811.1 L1697.5 817.5 L1697.6 824.0 L1697.7 830.6 L1697.8 837.3 L1697.9 844.0 L1698.0 850.8 L1698.1 857.7 L1698.2 864.6 L1698.3 871.5 L1698.4 878.5 L1698.4 885.4 L1698.5 892.4 L1698.6 899.3 L1698.7 906.2 L1698.8 913.0 L1698.8 919.8 L1698.9 926.5 L1699.0 933.2 L1699.0 939.7 L1699.1 946.2 L1699.1 952.5 L1699.2 958.7 L1699.2 964.8 L1699.3 970.7 L1699.3 976.4 L1699.3 982.0 L1699.3 986.6 L1699.3 991.1 L1699.4 995.6 L1699.4 1000.0 L1699.4 1004.5 L1699.4 1008.9 L1699.4 1013.3 L1699.4 1017.6 L1699.4 1022.0 L1699.5 1026.3 L1699.5 1030.6 L1699.5 1034.9 L1699.5 1039.1 L1699.5 1043.4 L1699.5 1047.6 L1699.5 1051.8 L1699.5 1056.0 L1699.5 1060.1 L1699.6 1064.3 L1699.6 1068.4 L1699.6 1072.6 L1699.6 1076.7 L1699.6 1080.8 L1699.6 1084.9 L1699.6 1089.0 L1699.6 1093.1 L1699.6 1097.2 L1699.6 1101.2 L1699.6 1105.3 L1699.6 1109.4 L1699.7 1113.4 L1699.7 1117.5 L1699.7 1121.5 L1699.7 1125.6 L1699.7 1129.7 L1699.7 1133.7 L1699.7 1137.8 L1699.7 1141.9 L1699.7 1145.9 L1699.7 1150.0 L1699.7 1154.1 L1699.8 1158.2 L1699.8 1162.4 L1699.8 1166.7 L1699.8 1170.9 L1699.8 1175.3 L1699.8 1179.6 L1699.8 1184.0 L1699.8 1188.4 L1699.8 1192.8 L1699.8 1197.2 L1699.8 1201.6 L1699.8 1206.0 L1699.8 1210.4 L1699.8 1214.8 L1699.8 1219.1 L1699.8 1223.5 L1699.9 1227.8 L1699.9 1232.1 L1699.9 1236.3 L1699.9 1240.5 L1699.9 1244.7 L1699.9 1248.8 L1699.9 1252.8 L1699.9 1256.8 L1699.9 1260.7 L1699.9 1264.5 L1699.9 1268.2 L1699.9 1271.9 L1699.9 1275.5 L1700.0 1278.9 L1700.0 1282.3 L1700.0 1285.5 L1700.0 1288.7 L1700.0 1291.7 L1700.0 1294.6 L1700.0 1297.4 L1700.1 1300.0 L1700.1 1304.9 L1700.3 1309.6 L1700.4 1314.2 L1700.7 1318.5 L1701.0 1322.7 L1701.3 1326.5 L1701.7 1330.1 L1702.2 1333.3 L1702.7 1336.2 L1703.2 1338.7 L1704.7 1342.0 L1707.2 1344.9 L1710.4 1347.4 L1714.0 1349.5 L1716.4 1350.7 L1719.2 1352.0 L1722.5 1353.3 L1726.0 1354.5 L1729.7 1355.7 L1733.6 1356.8 L1737.6 1357.7 L1741.6 1358.5 L1745.5 1359.2 L1749.2 1359.6 L1752.7 1359.7 L1756.6 1359.6 L1760.4 1359.3 L1764.0 1358.9 L1767.7 1358.5 L1771.4 1358.0 L1775.2 1357.6 L1779.2 1357.3 L1783.5 1357.2 L1786.8 1357.3 L1790.2 1357.4 L1793.7 1357.7 L1797.4 1358.1 L1801.2 1358.5 L1805.1 1359.0 L1809.0 1359.5 L1813.1 1360.0 L1817.1 1360.5 L1821.2 1361.0 L1825.3 1361.5 L1829.4 1361.9 L1833.4 1362.3 L1837.5 1362.6 L1841.4 1362.7 L1845.3 1362.8 L1849.2 1362.8 L1853.4 1362.7 L1857.7 1362.7 L1862.2 1362.5 L1866.7 1362.4 L1871.3 1362.3 L1875.8 1362.1 L1880.2 1362.0 L1884.5 1361.9 L1888.5 1361.7 L1892.3 1361.6 L1895.8 1361.5 L1898.9 1361.3 L1901.6 1361.3 L1903.8 1361.2 L1905.5 1361.2 L1908.2 1361.5 L1909.5 1361.7 L1909.5 1361.5 L1909.5 1361.0 L1909.6 1360.1 L1909.6 1358.8 L1909.6 1357.3 L1909.6 1355.4 L1909.6 1353.3 L1909.6 1350.8 L1909.6 1348.1 L1909.6 1345.1 L1909.6 1341.9 L1909.7 1338.4 L1909.7 1334.8 L1909.7 1330.9 L1909.7 1326.8 L1909.7 1322.5 L1909.7 1318.1 L1909.7 1313.5 L1909.7 1308.8 L1909.7 1304.0 L1909.7 1299.0 L1909.7 1294.0 L1909.7 1288.8 L1909.7 1283.6 L1909.7 1278.3 L1909.7 1272.9 L1909.7 1267.5 L1909.7 1262.1 L1909.7 1256.7 L1909.7 1251.3 L1909.7 1245.9 L1909.7 1240.5 L1909.7 1235.2 L1909.8 1229.9 L1909.8 1224.7 L1909.8 1219.5 L1909.8 1214.5 L1909.8 1209.5 L1909.8 1204.7 L1909.8 1200.0 L1909.8 1193.6 L1909.8 1187.1 L1909.9 1180.4 L1909.9 1173.6 L1909.9 1166.7 L1909.9 1159.6 L1910.0 1152.4 L1910.0 1145.1 L1910.0 1137.8 L1910.0 1130.3 L1910.1 1122.7 L1910.1 1115.1 L1910.1 1107.4 L1910.2 1099.6 L1910.2 1091.8 L1910.3 1083.9 L1910.3 1076.0 L1910.3 1068.1 L1910.4 1060.1 L1910.4 1052.1 L1910.4 1044.1 L1910.5 1036.1 L1910.5 1028.1 L1910.5 1020.1 L1910.6 1012.1 L1910.6 1004.2 L1910.6 996.3 L1910.7 988.4 L1910.7 980.6 L1910.7 972.9 L1910.8 965.2 L1910.8 957.5 L1910.8 950.0 L1910.8 942.5 L1910.8 935.2 L1910.9 927.9 L1910.9 920.7 L1910.9 913.7 L1910.9 906.8 L1910.9 900.0 L1910.9 894.5 L1910.9 889.0 L1910.9 883.5 L1910.9 878.0 L1910.9 872.5 L1910.9 867.0 L1910.9 861.5 L1910.9 856.0 L1910.9 850.5 L1910.9 845.0 L1910.9 839.6 L1910.9 834.2 L1910.9 828.7 L1910.9 823.4 L1910.9 818.0 L1910.9 812.7 L1910.9 807.4 L1910.9 802.1 L1910.9 796.9 L1910.9 791.7 L1910.9 786.5 L1911.0 781.4 L1911.0 776.3 L1911.0 771.3 L1911.0 766.4 L1911.0 761.5 L1911.0 756.6 L1911.0 751.8 L1911.0 747.1 L1911.0 742.4 L1911.0 737.8 L1911.0 733.3 L1911.0 728.9 L1911.0 724.5 L1911.0 720.2 L1911.0 716.0 L1911.0 711.9 L1911.0 707.8 L1911.0 703.9 L1911.0 700.0 L1911.0 695.4 L1911.0 690.9 L1911.0 686.5 L1911.0 682.2 L1911.1 677.9 L1911.1 673.7 L1911.1 669.6 L1911.1 665.5 L1911.1 661.6 L1911.2 657.7 L1911.2 653.8 L1911.2 650.1 L1911.2 646.4 L1911.3 642.8 L1911.3 639.3 L1911.3 635.8 L1911.4 632.4 L1911.4 629.1 L1911.4 625.8 L1911.4 622.6 L1911.5 619.5 L1911.5 615.2 L1911.6 611.0 L1911.6 607.1 L1911.7 603.3 L1911.8 599.6 L1911.8 596.0 L1911.9 592.4 L1911.9 588.8 L1912.0 585.1 L1912.1 581.4 L1912.1 577.5 L1912.2 573.6 L1912.3 569.6 L1912.3 565.5 L1912.4 561.5 L1912.4 557.6 L1912.5 553.8 L1912.6 550.1 L1912.7 546.6 L1912.8 543.4 L1913.0 539.1 L1913.3 535.2 L1913.7 531.4 L1914.1 527.8 L1914.5 524.4 L1914.9 521.0 L1915.3 517.7 L1915.8 514.6 L1916.4 511.7 L1917.2 508.4 L1918.3 505.4 L1919.6 502.8 L1922.3 500.0 L1925.9 498.0 L1928.8 497.2 L1932.1 496.6 L1935.8 496.1 L1939.7 495.8 L1942.8 495.6 L1946.1 495.4 L1949.6 495.2 L1953.3 495.1 L1957.1 495.0 L1961.1 494.9 L1965.3 494.9 L1968.3 494.9 L1971.5 494.9 L1974.8 495.0 L1978.2 495.0 L1981.7 495.1 L1985.3 495.1 L1989.0 495.2 L1992.7 495.3 L1996.6 495.3 L2000.6 495.4 L2004.6 495.5 L2008.7 495.5 L2012.8 495.6 L2017.0 495.6 L2021.3 495.6 L2024.7 495.6 L2028.5 495.6 L2032.4 495.6 L2036.7 495.6 L2041.1 495.6 L2045.7 495.6 L2050.4 495.6 L2055.3 495.6 L2060.2 495.6 L2065.1 495.6 L2070.1 495.6 L2075.1 495.6 L2080.0 495.6 L2084.9 495.6 L2089.6 495.6 L2094.2 495.6 L2098.7 495.6 L2102.9 495.6 L2106.9 495.7 L2110.7 495.7 L2114.1 495.7 L2117.3 495.7 L2120.1 495.7 L2122.5 495.7 L2124.5 495.7 L2126.0 495.7 L2127.1 495.7 L2128.5 496.0 L2129.4 496.6 L2129.8 497.8 L2130.1 500.2 L2130.4 503.5 L2130.6 507.4 L2130.8 511.9 L2130.9 516.7 L2131.1 521.6 L2131.3 526.3 L2131.5 530.7 L2131.7 534.3 L2131.9 537.9 L2132.1 541.7 L2132.3 545.5 L2132.5 549.4 L2132.7 553.4 L2132.9 557.4 L2133.1 561.4 L2133.3 565.5 L2133.5 569.5 L2133.7 573.5 L2133.9 577.5 L2134.1 581.4 L2134.3 585.3 L2134.5 589.1 L2134.7 593.0 L2135.0 596.8 L2135.2 600.6 L2135.4 604.5 L2135.6 608.3 L2135.8 612.2 L2136.0 616.1 L2136.2 620.0 L2136.3 624.0 L2136.5 628.0 L2136.6 632.1 L2136.7 635.9 L2136.8 639.8 L2136.9 643.7 L2136.9 647.7 L2137.0 651.8 L2137.1 655.8 L2137.2 660.0 L2137.2 664.1 L2137.3 668.2 L2137.3 672.2 L2137.4 676.3 L2137.4 680.3 L2137.5 684.2 L2137.5 688.1 L2137.6 691.8 L2137.6 695.5 L2137.7 699.4 L2137.7 703.0 L2137.7 706.5 L2137.8 709.8 L2137.8 713.1 L2137.8 716.4 L2137.9 719.8 L2137.9 723.3 L2137.9 727.0 L2138.0 731.0 L2138.0 735.3 L2138.1 740.0 L2138.1 743.6 L2138.2 747.5 L2138.2 751.6 L2138.3 756.0 L2138.3 760.6 L2138.4 765.5 L2138.4 770.5 L2138.5 775.8 L2138.6 781.3 L2138.6 786.9 L2138.7 792.7 L2138.8 798.7 L2138.8 804.8 L2138.9 811.1 L2139.0 817.5 L2139.1 824.0 L2139.2 830.6 L2139.2 837.3 L2139.3 844.0 L2139.4 850.8 L2139.5 857.7 L2139.5 864.6 L2139.6 871.5 L2139.7 878.5 L2139.8 885.4 L2139.8 892.4 L2139.9 899.3 L2140.0 906.2 L2140.1 913.0 L2140.1 919.8 L2140.2 926.5 L2140.2 933.2 L2140.3 939.7 L2140.3 946.2 L2140.4 952.5 L2140.4 958.7 L2140.5 964.8 L2140.5 970.7 L2140.5 976.4 L2140.5 982.0 L2140.6 986.6 L2140.6 991.1 L2140.6 995.6 L2140.6 1000.0 L2140.6 1004.5 L2140.6 1008.9 L2140.6 1013.3 L2140.6 1017.6 L2140.7 1022.0 L2140.7 1026.3 L2140.7 1030.6 L2140.7 1034.9 L2140.7 1039.1 L2140.7 1043.4 L2140.7 1047.6 L2140.7 1051.8 L2140.7 1056.0 L2140.7 1060.1 L2140.7 1064.3 L2140.8 1068.4 L2140.8 1072.6 L2140.8 1076.7 L2140.8 1080.8 L2140.8 1084.9 L2140.8 1089.0 L2140.8 1093.1 L2140.8 1097.2 L2140.8 1101.2 L2140.8 1105.3 L2140.8 1109.4 L2140.8 1113.4 L2140.8 1117.5 L2140.9 1121.5 L2140.9 1125.6 L2140.9 1129.7 L2140.9 1133.7 L2140.9 1137.8 L2140.9 1141.9 L2140.9 1145.9 L2140.9 1150.0 L2140.9 1154.1 L2140.9 1158.2 L2140.9 1162.4 L2140.9 1166.6 L2140.9 1170.9 L2140.9 1175.2 L2141.0 1179.5 L2141.0 1183.9 L2141.0 1188.2 L2141.0 1192.6 L2141.0 1197.0 L2141.0 1201.4 L2141.0 1205.8 L2141.0 1210.1 L2141.0 1214.5 L2141.0 1218.9 L2141.0 1223.2 L2141.0 1227.5 L2141.0 1231.7 L2141.0 1236.0 L2141.0 1240.2 L2141.0 1244.3 L2141.0 1248.4 L2141.0 1252.4 L2141.0 1256.4 L2141.1 1260.3 L2141.1 1264.1 L2141.1 1267.8 L2141.1 1271.5 L2141.1 1275.1 L2141.1 1278.6 L2141.1 1282.0 L2141.1 1285.3 L2141.1 1288.4 L2141.1 1291.5 L2141.2 1294.5 L2141.2 1297.3 L2141.2 1300.0 L2141.3 1304.8 L2141.4 1309.4 L2141.6 1313.9 L2141.9 1318.3 L2142.3 1322.4 L2142.7 1326.3 L2143.2 1330.0 L2143.7 1333.4 L2144.3 1336.5 L2144.9 1339.3 L2145.5 1341.8 L2146.9 1345.3 L2148.9 1348.4 L2151.4 1351.0 L2154.2 1352.6 L2156.8 1353.3 L2160.0 1353.9 L2163.7 1354.4 L2167.8 1354.9 L2172.1 1355.2 L2176.5 1355.6 L2180.8 1356.1 L2185.0 1356.6 L2188.6 1357.2 L2192.3 1357.9 L2196.1 1358.7 L2200.0 1359.5 L2203.8 1360.3 L2207.6 1361.1 L2211.4 1361.8 L2215.1 1362.3 L2218.7 1362.7 L2222.1 1362.8 L2225.9 1362.8 L2229.6 1362.7 L2233.2 1362.6 L2236.7 1362.4 L2240.1 1362.2 L2243.5 1362.0 L2246.8 1361.8 L2250.7 1361.4 L2254.4 1360.9 L2258.0 1360.3 L2261.6 1359.9 L2265.3 1359.7 L2269.0 1359.8 L2272.7 1360.2 L2276.5 1360.9 L2280.2 1361.7 L2283.9 1362.8"/>
<path stroke="#00ff00" d="M370.7 1418.0 L373.4 1420.3 L375.6 1423.0 L376.8 1425.6 L377.8 1428.5 L379.0 1431.0 L380.8 1433.0 L383.1 1434.8 L385.9 1436.3 L388.6 1437.3 L391.9 1438.2 L395.6 1439.0 L399.7 1439.7 L403.9 1440.4 L408.0 1441.0 L411.9 1441.5 L415.5 1441.9 L419.1 1442.4 L422.7 1442.7 L426.3 1443.1 L430.0 1443.4 L433.8 1443.5 L437.8 1443.6 L441.3 1443.5 L445.0 1443.4 L448.8 1443.1 L452.7 1442.9 L456.6 1442.5 L460.6 1442.2 L464.6 1442.0 L468.6 1441.7 L472.7 1441.6 L476.7 1441.5 L480.3 1441.6 L483.9 1441.8 L487.7 1442.2 L491.4 1442.6 L495.1 1443.2 L498.9 1443.7 L502.7 1444.2 L506.4 1444.8 L510.1 1445.2 L513.7 1445.6 L517.2 1445.8 L520.7 1445.9 L524.7 1445.8 L528.6 1445.5 L532.4 1445.1 L536.2 1444.6 L540.0 1444.1 L543.7 1443.6 L547.3 1443.2 L550.9 1442.9 L554.4 1442.8 L558.5 1442.8 L562.8 1443.0 L567.2 1443.1 L571.3 1443.3 L575.0 1443.4 L578.1 1443.6 L580.4 1443.6 L582.6 1443.6 L583.7 1443.6 L583.7 1443.3 L583.7 1442.5 L583.7 1441.2 L583.7 1439.4 L583.8 1437.1 L583.8 1434.3 L583.8 1431.1 L583.8 1427.5 L583.8 1423.5 L583.8 1419.1 L583.8 1414.3 L583.8 1409.2 L583.8 1403.7 L583.8 1397.9 L583.8 1391.9 L583.8 1385.6 L583.8 1379.0 L583.8 1372.2 L583.8 1365.1 L583.8 1357.9 L583.8 1350.5 L583.8 1342.9 L583.8 1335.2 L583.8 1327.3 L583.8 1319.4 L583.8 1311.3 L583.8 1303.2 L583.8 1295.0 L583.8 1286.8 L583.8 1278.6 L583.9 1270.4 L583.9 1262.3 L583.9 1254.1 L583.9 1246.1 L583.9 1238.1 L583.9 1230.2 L583.9 1222.4 L583.9 1214.8 L583.9 1207.3 L583.9 1200.0 L583.9 1188.8 L583.9 1176.8 L583.9 1164.1 L584.0 1150.8 L584.0 1136.9 L584.0 1122.4 L584.0 1107.5 L584.0 1092.0 L584.1 1076.2 L584.1 1060.0 L584.1 1043.5 L584.2 1026.8 L584.2 1009.8 L584.2 992.7 L584.3 975.4 L584.3 958.1 L584.3 940.8 L584.4 923.5 L584.4 906.3 L584.4 889.3 L584.5 872.4 L584.5 855.7 L584.6 839.3 L584.6 823.3 L584.6 807.6 L584.7 792.3 L584.7 777.6 L584.8 763.3 L584.8 749.6 L584.8 736.5 L584.9 724.1 L584.9 712.4 L585.0 701.5 L585.0 691.4 L585.1 682.2 L585.1 673.8 L585.2 666.5 L585.2 660.1 L585.3 654.8 L585.3 650.6 L585.4 645.8 L585.4 641.8 L585.5 638.4 L585.6 635.4 L585.7 632.6 L586.0 628.7 L586.5 625.6 L587.2 623.8 L588.1 622.4 L589.1 621.7 L590.4 621.2 L591.9 620.9 L593.9 620.6 L596.0 620.4 L598.9 620.2 L602.5 619.9 L606.5 619.7 L610.8 619.5 L615.4 619.3 L620.1 619.1 L624.7 619.0 L629.1 619.0 L632.7 619.0 L636.5 619.1 L640.3 619.1 L644.3 619.2 L648.3 619.3 L652.3 619.4 L656.4 619.4 L660.5 619.5 L664.6 619.6 L668.7 619.7 L672.8 619.7 L676.9 619.8 L680.9 619.8 L684.6 619.8 L688.3 619.7 L691.9 619.6 L695.5 619.5 L699.2 619.3 L702.8 619.1 L706.4 618.9 L710.1 618.8 L713.8 618.6 L717.5 618.4 L721.3 618.3 L725.1 618.2 L729.0 618.1 L732.9 618.1 L736.7 618.1 L740.8 618.1 L745.2 618.2 L749.9 618.3 L754.8 618.3 L759.7 618.4 L764.7 618.5 L769.6 618.6 L774.4 618.7 L779.1 618.8 L783.5 618.9 L787.6 619.0 L791.3 619.1 L794.6 619.1 L797.4 619.2 L799.5 619.3 L801.1 619.3 L801.9 619.3 L802.1 619.3 L802.3 619.3 L802.8 620.1 L803.2 621.8 L803.3 623.0 L803.4 624.8 L803.4 626.9 L803.5 629.5 L803.5 632.4 L803.6 635.7 L803.6 639.2 L803.7 643.1 L803.7 647.2 L803.8 651.6 L803.8 656.1 L803.8 660.8 L803.9 665.6 L803.9 670.5 L803.9 675.4 L803.9 680.4 L803.9 685.4 L804.0 690.3 L804.0 695.2 L804.0 700.0 L804.0 703.8 L804.0 707.7 L804.0 711.7 L804.0 715.7 L804.1 719.8 L804.1 723.9 L804.1 728.1 L804.1 732.4 L804.1 736.8 L804.1 741.2 L804.1 745.7 L804.1 750.2 L804.1 754.8 L804.1 759.5 L804.1 764.2 L804.1 769.0 L804.1 773.9 L804.2 778.8 L804.2 783.7 L804.2 788.7 L804.2 793.8 L804.2 798.9 L804.2 804.1 L804.2 809.4 L804.2 814.7 L804.2 820.0 L804.2 825.4 L804.2 830.8 L804.2 836.3 L804.2 841.9 L804.2 847.5 L804.2 853.1 L804.2 858.8 L804.2 864.6 L804.3 870.4 L804.3 876.2 L804.3 882.1 L804.3 888.0 L804.3 894.0 L804.3 900.0 L804.3 910.0 L804.3 920.7 L804.4 932.1 L804.4 944.2 L804.4 956.9 L804.4 970.1 L804.4 983.9 L804.4 998.1 L804.5 1012.7 L804.5 1027.7 L804.5 1043.0 L804.5 1058.5 L804.6 1074.3 L804.6 1090.3 L804.6 1106.3 L804.6 1122.5 L804.7 1138.6 L804.7 1154.7 L804.7 1170.8 L804.7 1186.7 L804.8 1202.5 L804.8 1218.0 L804.8 1233.3 L804.9 1248.3 L804.9 1262.9 L804.9 1277.0 L805.0 1290.8 L805.0 1304.0 L805.0 1316.6 L805.1 1328.6 L805.1 1340.0 L805.1 1350.7 L805.2 1360.6 L805.2 1369.8 L805.3 1378.0 L805.3 1385.4 L805.4 1391.9 L805.4 1397.3 L805.5 1401.7 L805.5 1405.0 L805.6 1409.5 L805.8 1412.8 L806.0 1416.0 L806.6 1419.3 L807.6 1422.6 L808.7 1425.5 L810.0 1428.8 L811.7 1431.5 L813.6 1433.2 L816.2 1434.5 L818.4 1435.0 L821.2 1435.5 L824.5 1435.9 L828.2 1436.3 L832.2 1436.6 L836.3 1436.9 L840.5 1437.3 L843.5 1437.6 L846.7 1437.8 L850.1 1438.1 L853.6 1438.3 L857.3 1438.6 L861.1 1438.8 L865.0 1439.1 L869.0 1439.3 L873.0 1439.6 L877.0 1439.8 L881.1 1440.1 L885.2 1440.3 L889.2 1440.5 L893.2 1440.8 L897.2 1441.0 L901.0 1441.3 L904.8 1441.6 L908.6 1441.9 L912.5 1442.2 L916.4 1442.5 L920.3 1442.8 L924.2 1443.2 L928.1 1443.5 L932.0 1443.9 L935.9 1444.2 L939.7 1444.5 L943.5 1444.7 L947.3 1444.9 L950.9 1445.1 L954.5 1445.3 L958.1 1445.4 L961.5 1445.4 L965.5 1445.3 L969.5 1445.1 L973.5 1444.8 L977.3 1444.5 L981.2 1444.1 L984.9 1443.6 L988.5 1443.2 L992.1 1442.9 L995.5 1442.6 L998.7 1442.4 L1001.8 1442.3 L1005.7 1442.4 L1009.6 1442.6 L1013.3 1442.8 L1016.7 1443.0 L1019.6 1443.2 L1021.9 1443.3 L1024.3 1443.3 L1025.5 1443.3 L1025.5 1443.0 L1025.5 1442.2 L1025.5 1440.9 L1025.5 1439.1 L1025.6 1436.8 L1025.6 1434.0 L1025.6 1430.8 L1025.6 1427.2 L1025.6 1423.2 L1025.6 1418.8 L1025.6 1414.0 L1025.6 1408.9 L1025.6 1403.5 L1025.6 1397.7 L1025.6 1391.7 L1025.6 1385.3 L1025.6 1378.8 L1025.6 1371.9 L1025.6 1364.9 L1025.6 1357.7 L1025.6 1350.3 L1025.6 1342.7 L1025.6 1335.0 L1025.6 1327.2 L1025.6 1319.2 L1025.6 1311.2 L1025.6 1303.1 L1025.6 1294.9 L1025.6 1286.8 L1025.6 1278.6 L1025.7 1270.4 L1025.7 1262.2 L1025.7 1254.1 L1025.7 1246.0 L1025.7 1238.0 L1025.7 1230.2 L1025.7 1222.4 L1025.7 1214.8 L1025.7 1207.3 L1025.7 1200.0 L1025.7 1188.8 L1025.7 1176.8 L1025.7 1164.1 L1025.8 1150.8 L1025.8 1136.9 L1025.8 1122.4 L1025.8 1107.5 L1025.8 1092.1 L1025.9 1076.2 L1025.9 1060.0 L1025.9 1043.5 L1026.0 1026.8 L1026.0 1009.8 L1026.0 992.7 L1026.1 975.5 L1026.1 958.2 L1026.1 940.8 L1026.2 923.6 L1026.2 906.4 L1026.2 889.3 L1026.3 872.4 L1026.3 855.7 L1026.4 839.4 L1026.4 823.3 L1026.4 807.6 L1026.5 792.4 L1026.5 777.6 L1026.6 763.3 L1026.6 749.6 L1026.6 736.5 L1026.7 724.1 L1026.7 712.5 L1026.8 701.5 L1026.8 691.4 L1026.9 682.2 L1026.9 673.8 L1027.0 666.5 L1027.0 660.1 L1027.1 654.8 L1027.1 650.6 L1027.2 645.8 L1027.2 641.8 L1027.3 638.4 L1027.4 635.4 L1027.5 632.6 L1027.8 628.7 L1028.3 625.6 L1029.0 623.8 L1029.9 622.4 L1030.9 621.7 L1032.2 621.2 L1033.7 620.9 L1035.7 620.6 L1037.8 620.4 L1040.7 620.3 L1044.3 620.2 L1048.3 620.1 L1052.6 619.9 L1057.2 619.8 L1061.9 619.7 L1066.5 619.6 L1070.9 619.5 L1074.5 619.4 L1078.3 619.3 L1082.2 619.2 L1086.1 619.0 L1090.1 618.9 L1094.1 618.8 L1098.2 618.7 L1102.3 618.6 L1106.4 618.5 L1110.5 618.4 L1114.6 618.4 L1118.7 618.3 L1122.7 618.3 L1126.4 618.3 L1130.1 618.3 L1133.7 618.3 L1137.3 618.4 L1141.0 618.4 L1144.6 618.4 L1148.2 618.4 L1151.9 618.5 L1155.6 618.5 L1159.3 618.5 L1163.1 618.6 L1166.9 618.6 L1170.8 618.6 L1174.7 618.6 L1178.5 618.6 L1182.6 618.6 L1187.0 618.5 L1191.7 618.4 L1196.6 618.3 L1201.5 618.2 L1206.5 618.1 L1211.4 618.0 L1216.2 617.9 L1220.9 617.8 L1225.3 617.7 L1229.4 617.6 L1233.1 617.5 L1236.4 617.4 L1239.2 617.3 L1241.3 617.2 L1242.9 617.2 L1243.7 617.2 L1243.9 617.2 L1244.1 617.2 L1244.6 618.0 L1245.0 619.7 L1245.1 620.9 L1245.1 622.5 L1245.2 624.6 L1245.3 627.0 L1245.3 629.8 L1245.4 632.9 L1245.4 636.3 L1245.5 640.0 L1245.5 644.0 L1245.5 648.1 L1245.6 652.5 L1245.6 657.0 L1245.6 661.6 L1245.7 666.4 L1245.7 671.2 L1245.7 676.0 L1245.7 680.9 L1245.8 685.8 L1245.8 690.6 L1245.8 695.3 L1245.8 700.0 L1245.8 703.8 L1245.8 707.8 L1245.8 711.7 L1245.8 715.8 L1245.9 719.9 L1245.9 724.1 L1245.9 728.3 L1245.9 732.6 L1245.9 737.0 L1245.9 741.4 L1245.9 745.9 L1245.9 750.4 L1245.9 755.0 L1245.9 759.7 L1245.9 764.4 L1245.9 769.2 L1245.9 774.0 L1245.9 778.9 L1246.0 783.9 L1246.0 788.9 L1246.0 794.0 L1246.0 799.1 L1246.0 804.3 L1246.0 809.5 L1246.0 814.8 L1246.0 820.1 L1246.0 825.5 L1246.0 830.9 L1246.0 836.4 L1246.0 842.0 L1246.0 847.6 L1246.0 853.2 L1246.0 858.9 L1246.0 864.6 L1246.1 870.4 L1246.1 876.2 L1246.1 882.1 L1246.1 888.0 L1246.1 894.0 L1246.1 900.0 L1246.1 910.0 L1246.1 920.7 L1246.2 932.1 L1246.2 944.2 L1246.2 956.9 L1246.2 970.1 L1246.2 983.9 L1246.3 998.1 L1246.3 1012.7 L1246.3 1027.7 L1246.3 1043.0 L1246.3 1058.5 L1246.4 1074.3 L1246.4 1090.3 L1246.4 1106.3 L1246.5 1122.5 L1246.5 1138.6 L1246.5 1154.7 L1246.5 1170.8 L1246.6 1186.7 L1246.6 1202.5 L1246.6 1218.0 L1246.7 1233.3 L1246.7 1248.3 L1246.7 1262.9 L1246.8 1277.0 L1246.8 1290.8 L1246.9 1304.0 L1246.9 1316.6 L1246.9 1328.6 L1247.0 1340.0 L1247.0 1350.7 L1247.1 1360.6 L1247.1 1369.8 L1247.2 1378.0 L1247.2 1385.4 L1247.2 1391.9 L1247.3 1397.3 L1247.3 1401.7 L1247.4 1405.0 L1247.5 1409.5 L1247.7 1412.8 L1247.9 1416.0 L1248.5 1419.3 L1249.5 1422.6 L1250.6 1425.5 L1251.9 1428.8 L1253.6 1431.5 L1255.5 1433.2 L1258.1 1434.5 L1260.6 1435.1 L1263.6 1435.6 L1267.2 1436.0 L1271.0 1436.4 L1275.0 1436.8 L1278.2 1437.1 L1281.7 1437.3 L1285.4 1437.6 L1289.2 1437.8 L1293.2 1438.0 L1297.4 1438.3 L1301.6 1438.5 L1305.9 1438.7 L1310.2 1439.0 L1314.5 1439.3 L1318.2 1439.6 L1322.0 1439.9 L1325.9 1440.3 L1329.8 1440.7 L1333.9 1441.2 L1337.9 1441.6 L1342.0 1442.0 L1346.1 1442.5 L1350.2 1442.9 L1354.3 1443.2 L1358.4 1443.5 L1362.4 1443.7 L1366.3 1443.8 L1370.1 1443.9 L1374.1 1443.8 L1378.0 1443.7 L1381.9 1443.4 L1385.7 1443.1 L1389.5 1442.8 L1393.3 1442.5 L1397.0 1442.1 L1400.8 1441.8 L1404.6 1441.5 L1408.4 1441.2 L1412.2 1441.1 L1416.0 1441.0 L1420.1 1441.1 L1424.5 1441.4 L1429.2 1441.8 L1433.9 1442.3 L1438.6 1442.8 L1443.3 1443.5 L1447.7 1444.1 L1451.9 1444.6 L1455.6 1445.1 L1458.9 1445.5 L1461.5 1445.8 L1463.5 1445.9 L1466.1 1445.9 L1467.3 1445.9 L1467.3 1445.6 L1467.3 1444.8 L1467.3 1443.5 L1467.3 1441.6 L1467.4 1439.3 L1467.4 1436.5 L1467.4 1433.3 L1467.4 1429.6 L1467.4 1425.6 L1467.4 1421.1 L1467.4 1416.3 L1467.4 1411.1 L1467.4 1405.6 L1467.4 1399.8 L1467.4 1393.7 L1467.4 1387.3 L1467.4 1380.6 L1467.4 1373.7 L1467.4 1366.6 L1467.4 1359.3 L1467.4 1351.8 L1467.4 1344.2 L1467.4 1336.4 L1467.4 1328.5 L1467.4 1320.4 L1467.4 1312.3 L1467.4 1304.1 L1467.4 1295.9 L1467.4 1287.6 L1467.4 1279.3 L1467.5 1271.1 L1467.5 1262.8 L1467.5 1254.6 L1467.5 1246.5 L1467.5 1238.4 L1467.5 1230.5 L1467.5 1222.6 L1467.5 1214.9 L1467.5 1207.4 L1467.5 1200.0 L1467.5 1188.7 L1467.5 1176.7 L1467.5 1164.0 L1467.6 1150.6 L1467.6 1136.7 L1467.6 1122.2 L1467.6 1107.2 L1467.6 1091.7 L1467.7 1075.8 L1467.7 1059.6 L1467.7 1043.1 L1467.8 1026.3 L1467.8 1009.3 L1467.8 992.1 L1467.9 974.9 L1467.9 957.5 L1467.9 940.2 L1468.0 922.9 L1468.0 905.6 L1468.0 888.5 L1468.1 871.6 L1468.1 855.0 L1468.2 838.5 L1468.2 822.5 L1468.2 806.8 L1468.3 791.5 L1468.3 776.7 L1468.4 762.4 L1468.4 748.7 L1468.4 735.6 L1468.5 723.2 L1468.5 711.5 L1468.6 700.6 L1468.6 690.5 L1468.7 681.2 L1468.7 672.9 L1468.8 665.5 L1468.8 659.1 L1468.9 653.8 L1468.9 649.6 L1469.0 644.8 L1469.0 640.8 L1469.1 637.4 L1469.2 634.4 L1469.3 631.6 L1469.6 627.7 L1470.1 624.6 L1470.8 622.8 L1471.7 621.4 L1472.7 620.7 L1474.0 620.2 L1475.5 619.9 L1477.5 619.6 L1479.6 619.4 L1482.5 619.2 L1486.1 619.0 L1490.1 618.8 L1494.4 618.6 L1499.0 618.4 L1503.7 618.2 L1508.3 618.1 L1512.7 618.0 L1516.3 617.9 L1520.1 617.9 L1523.9 617.8 L1527.9 617.8 L1531.9 617.8 L1535.9 617.7 L1540.0 617.7 L1544.1 617.7 L1548.2 617.6 L1552.3 617.6 L1556.4 617.6 L1560.5 617.5 L1564.5 617.5 L1568.2 617.5 L1571.9 617.4 L1575.5 617.4 L1579.1 617.4 L1582.8 617.3 L1586.4 617.3 L1590.0 617.2 L1593.7 617.2 L1597.4 617.2 L1601.1 617.1 L1604.9 617.1 L1608.7 617.1 L1612.6 617.0 L1616.5 617.0 L1620.3 617.0 L1624.4 616.9 L1628.8 616.9 L1633.5 616.9 L1638.4 616.8 L1643.3 616.8 L1648.3 616.8 L1653.2 616.7 L1658.0 616.7 L1662.7 616.6 L1667.1 616.6 L1671.2 616.6 L1674.9 616.6 L1678.2 616.5 L1681.0 616.5 L1683.1 616.5 L1684.7 616.5 L1685.5 616.5 L1685.7 616.5 L1685.9 616.5 L1686.4 617.3 L1686.8 619.0 L1686.9 620.2 L1686.9 621.8 L1687.0 623.9 L1687.1 626.4 L1687.1 629.2 L1687.2 632.3 L1687.2 635.8 L1687.3 639.5 L1687.3 643.5 L1687.3 647.7 L1687.4 652.1 L1687.4 656.6 L1687.4 661.3 L1687.5 666.1 L1687.5 670.9 L1687.5 675.8 L1687.5 680.7 L1687.6 685.6 L1687.6 690.5 L1687.6 695.3 L1687.6 700.0 L1687.6 703.9 L1687.6 707.8 L1687.6 711.8 L1687.6 715.8 L1687.7 719.9 L1687.7 724.1 L1687.7 728.4 L1687.7 732.7 L1687.7 737.0 L1687.7 741.5 L1687.7 745.9 L1687.7 750.5 L1687.7 755.1 L1687.7 759.8 L1687.7 764.5 L1687.7 769.3 L1687.7 774.1 L1687.8 779.0 L1687.8 784.0 L1687.8 789.0 L1687.8 794.0 L1687.8 799.1 L1687.8 804.3 L1687.8 809.5 L1687.8 814.8 L1687.8 820.1 L1687.8 825.5 L1687.8 831.0 L1687.8 836.5 L1687.8 842.0 L1687.8 847.6 L1687.8 853.2 L1687.8 858.9 L1687.8 864.6 L1687.9 870.4 L1687.9 876.2 L1687.9 882.1 L1687.9 888.0 L1687.9 894.0 L1687.9 900.0 L1687.9 910.0 L1687.9 920.7 L1687.9 932.1 L1688.0 944.2 L1688.0 956.9 L1688.0 970.1 L1688.0 983.9 L1688.0 998.1 L1688.0 1012.7 L1688.1 1027.7 L1688.1 1043.0 L1688.1 1058.5 L1688.1 1074.3 L1688.1 1090.3 L1688.2 1106.3 L1688.2 1122.5 L1688.2 1138.6 L1688.2 1154.7 L1688.2 1170.8 L1688.3 1186.7 L1688.3 1202.5 L1688.3 1218.0 L1688.3 1233.3 L1688.4 1248.3 L1688.4 1262.9 L1688.4 1277.0 L1688.4 1290.8 L1688.5 1304.0 L1688.5 1316.6 L1688.5 1328.6 L1688.6 1340.0 L1688.6 1350.7 L1688.6 1360.6 L1688.7 1369.8 L1688.7 1378.0 L1688.7 1385.4 L1688.8 1391.9 L1688.8 1397.3 L1688.9 1401.7 L1688.9 1405.0 L1689.0 1409.5 L1689.2 1412.8 L1689.4 1416.0 L1690.0 1419.3 L1691.0 1422.6 L1692.1 1425.5 L1693.4 1428.8 L1695.1 1431.5 L1697.0 1433.1 L1699.6 1434.5 L1702.1 1435.6 L1705.4 1436.8 L1709.2 1438.0 L1713.4 1439.0 L1717.7 1439.7 L1721.8 1440.0 L1725.4 1440.0 L1729.2 1439.9 L1733.1 1439.7 L1737.1 1439.5 L1741.1 1439.4 L1745.1 1439.2 L1749.0 1439.1 L1752.7 1439.1 L1756.4 1439.3 L1760.0 1439.8 L1763.5 1440.6 L1767.0 1441.3 L1770.4 1442.1 L1773.9 1442.6 L1777.4 1442.8 L1780.9 1442.6 L1784.5 1442.2 L1788.1 1441.7 L1791.6 1441.1 L1795.2 1440.6 L1798.7 1440.2 L1802.1 1440.0 L1805.8 1440.2 L1809.4 1440.8 L1812.9 1441.5 L1816.4 1442.3 L1820.0 1442.9 L1823.7 1443.1 L1827.1 1442.9 L1830.6 1442.5 L1834.1 1441.9 L1837.6 1441.2 L1841.2 1440.6 L1844.8 1440.2 L1848.4 1440.0 L1852.3 1440.2 L1856.2 1440.6 L1860.2 1441.1 L1864.1 1441.7 L1868.2 1442.2 L1872.2 1442.6 L1876.2 1442.8 L1880.0 1442.7 L1884.2 1442.5 L1888.5 1442.1 L1892.7 1441.7 L1896.7 1441.3 L1900.3 1440.9 L1903.3 1440.7 L1905.5 1440.6 L1907.9 1440.6 L1909.1 1440.6 L1909.1 1440.3 L1909.1 1439.5 L1909.1 1438.2 L1909.1 1436.4 L1909.2 1434.2 L1909.2 1431.5 L1909.2 1428.3 L1909.2 1424.7 L1909.2 1420.8 L1909.2 1416.4 L1909.2 1411.7 L1909.2 1406.6 L1909.2 1401.3 L1909.2 1395.6 L1909.2 1389.6 L1909.2 1383.4 L1909.2 1376.9 L1909.2 1370.1 L1909.2 1363.2 L1909.2 1356.0 L1909.2 1348.7 L1909.2 1341.2 L1909.2 1333.6 L1909.2 1325.9 L1909.2 1318.0 L1909.2 1310.1 L1909.2 1302.1 L1909.2 1294.0 L1909.2 1285.9 L1909.2 1277.8 L1909.3 1269.7 L1909.3 1261.6 L1909.3 1253.6 L1909.3 1245.6 L1909.3 1237.7 L1909.3 1229.9 L1909.3 1222.2 L1909.3 1214.6 L1909.3 1207.2 L1909.3 1200.0 L1909.3 1188.8 L1909.3 1176.8 L1909.3 1164.1 L1909.4 1150.7 L1909.4 1136.7 L1909.4 1122.2 L1909.4 1107.2 L1909.4 1091.7 L1909.5 1075.7 L1909.5 1059.5 L1909.5 1042.9 L1909.6 1026.0 L1909.6 1008.9 L1909.6 991.7 L1909.7 974.3 L1909.7 956.9 L1909.7 939.5 L1909.8 922.0 L1909.8 904.7 L1909.8 887.5 L1909.9 870.5 L1909.9 853.7 L1910.0 837.2 L1910.0 821.0 L1910.0 805.2 L1910.1 789.8 L1910.1 774.9 L1910.2 760.5 L1910.2 746.7 L1910.2 733.6 L1910.3 721.1 L1910.3 709.3 L1910.4 698.3 L1910.4 688.1 L1910.5 678.8 L1910.5 670.4 L1910.6 663.0 L1910.6 656.6 L1910.7 651.2 L1910.7 647.0 L1910.8 642.2 L1910.8 638.2 L1910.9 634.8 L1911.0 631.8 L1911.1 629.0 L1911.4 625.1 L1911.9 622.0 L1912.6 620.2 L1913.5 618.8 L1914.5 618.1 L1915.8 617.6 L1917.5 617.3 L1919.3 617.0 L1920.7 616.6 L1922.5 616.2 L1924.7 616.0 L1927.8 615.9 L1931.6 615.8 L1935.9 615.6 L1940.5 615.5 L1945.1 615.4 L1949.4 615.4 L1953.2 615.3 L1956.3 615.3 L1960.2 615.5 L1963.4 615.8 L1967.3 616.0 L1970.2 615.9 L1973.7 615.8 L1977.4 615.6 L1981.5 615.4 L1985.6 615.1 L1989.8 614.9 L1993.9 614.7 L1997.7 614.6 L2001.3 614.5 L2005.2 614.6 L2008.8 615.0 L2012.3 615.5 L2015.8 615.9 L2019.4 616.3 L2023.3 616.4 L2026.8 616.3 L2030.6 616.1 L2034.5 615.8 L2038.6 615.4 L2042.6 615.1 L2046.6 614.7 L2050.4 614.4 L2054.0 614.2 L2057.3 614.1 L2060.9 614.3 L2064.2 614.6 L2067.3 615.1 L2070.6 615.4 L2074.3 615.6 L2077.6 615.5 L2081.4 615.4 L2085.4 615.2 L2089.7 615.0 L2094.0 614.7 L2098.4 614.4 L2102.6 614.2 L2106.6 614.0 L2110.2 613.9 L2113.3 613.8 L2117.7 613.8 L2122.0 613.9 L2125.4 614.0 L2127.3 614.0 L2127.5 614.0 L2127.7 614.0 L2128.2 614.8 L2128.6 616.5 L2128.7 617.7 L2128.7 619.4 L2128.8 621.5 L2128.9 624.1 L2128.9 627.0 L2129.0 630.2 L2129.0 633.8 L2129.1 637.7 L2129.1 641.8 L2129.1 646.1 L2129.2 650.6 L2129.2 655.3 L2129.2 660.1 L2129.3 665.1 L2129.3 670.1 L2129.3 675.1 L2129.3 680.2 L2129.4 685.2 L2129.4 690.3 L2129.4 695.2 L2129.4 700.0 L2129.4 703.9 L2129.4 707.9 L2129.4 711.9 L2129.4 716.0 L2129.5 720.1 L2129.5 724.3 L2129.5 728.6 L2129.5 732.9 L2129.5 737.2 L2129.5 741.7 L2129.5 746.2 L2129.5 750.7 L2129.5 755.3 L2129.5 760.0 L2129.5 764.7 L2129.5 769.5 L2129.5 774.3 L2129.5 779.2 L2129.6 784.2 L2129.6 789.2 L2129.6 794.2 L2129.6 799.3 L2129.6 804.5 L2129.6 809.7 L2129.6 815.0 L2129.6 820.3 L2129.6 825.6 L2129.6 831.1 L2129.6 836.5 L2129.6 842.1 L2129.6 847.6 L2129.6 853.3 L2129.6 858.9 L2129.6 864.7 L2129.7 870.4 L2129.7 876.2 L2129.7 882.1 L2129.7 888.0 L2129.7 894.0 L2129.7 900.0 L2129.7 910.0 L2129.7 920.7 L2129.8 932.1 L2129.8 944.2 L2129.8 956.9 L2129.8 970.1 L2129.9 983.9 L2129.9 998.1 L2129.9 1012.7 L2130.0 1027.7 L2130.0 1043.0 L2130.0 1058.5 L2130.1 1074.3 L2130.1 1090.3 L2130.1 1106.3 L2130.2 1122.5 L2130.2 1138.6 L2130.2 1154.7 L2130.3 1170.8 L2130.3 1186.7 L2130.4 1202.5 L2130.4 1218.0 L2130.5 1233.3 L2130.5 1248.3 L2130.6 1262.9 L2130.6 1277.0 L2130.7 1290.8 L2130.7 1304.0 L2130.8 1316.6 L2130.8 1328.6 L2130.9 1340.0 L2130.9 1350.7 L2131.0 1360.6 L2131.0 1369.8 L2131.1 1378.0 L2131.2 1385.4 L2131.2 1391.9 L2131.3 1397.3 L2131.3 1401.7 L2131.4 1405.0 L2131.5 1409.5 L2131.7 1412.8 L2131.9 1416.0 L2132.5 1419.3 L2133.5 1422.6 L2134.6 1425.5 L2135.9 1428.8 L2137.6 1431.5 L2139.5 1433.3 L2142.1 1434.5 L2144.6 1434.8 L2147.9 1435.1 L2151.9 1435.2 L2156.3 1435.4 L2160.8 1435.5 L2165.4 1435.7 L2169.6 1436.0 L2173.4 1436.4 L2177.3 1437.1 L2181.2 1437.8 L2185.2 1438.6 L2189.1 1439.4 L2193.0 1440.0 L2196.8 1440.4 L2200.5 1440.6 L2204.1 1440.5 L2207.6 1440.1 L2211.0 1439.6 L2214.4 1439.1 L2217.9 1438.6 L2221.4 1438.2 L2225.2 1438.1 L2228.6 1438.2 L2232.1 1438.5 L2235.8 1439.0 L2239.5 1439.5 L2243.3 1440.1 L2247.1 1440.7 L2250.9 1441.2 L2254.7 1441.7 L2258.5 1442.0 L2262.2 1442.1 L2266.2 1442.1 L2270.2 1442.1 L2274.2 1442.0 L2278.2 1441.9 L2282.2 1441.8 L2286.1 1441.6 L2290.1 1441.4 L2294.0 1441.0 L2298.0 1440.6"/>
<path stroke="#ff0000" d="M370.7 1424.0 L372.5 1427.5 L374.3 1431.0 L375.4 1433.6 L376.6 1436.3 L378.0 1438.5 L380.1 1440.2 L382.7 1441.6 L385.9 1442.8 L388.6 1443.7 L391.8 1444.5 L395.4 1445.3 L399.3 1446.0 L403.3 1446.7 L407.6 1447.4 L411.9 1448.0 L415.1 1448.4 L418.4 1448.9 L422.0 1449.3 L425.7 1449.7 L429.6 1450.1 L433.5 1450.4 L437.5 1450.8 L441.5 1451.2 L445.4 1451.5 L449.3 1451.9 L453.2 1452.2 L456.8 1452.5 L460.4 1452.9 L463.7 1453.2 L467.9 1453.7 L471.9 1454.2 L475.6 1454.7 L479.3 1455.2 L483.0 1455.6 L486.8 1456.0 L490.7 1456.2 L494.8 1456.3 L498.4 1456.3 L502.0 1456.3 L505.9 1456.2 L509.8 1456.2 L513.7 1456.1 L517.7 1456.1 L521.8 1456.0 L525.8 1456.0 L529.8 1455.9 L533.8 1455.8 L537.7 1455.8 L541.5 1455.7 L545.5 1455.6 L549.9 1455.6 L554.4 1455.5 L559.0 1455.4 L563.5 1455.3 L567.9 1455.2 L571.9 1455.2 L575.5 1455.1 L578.6 1455.0 L580.9 1455.0 L582.5 1455.0 L583.7 1455.1 L584.3 1455.3 L584.3 1455.0 L584.3 1454.2 L584.3 1452.7 L584.3 1450.8 L584.4 1448.4 L584.4 1445.5 L584.4 1442.1 L584.4 1438.2 L584.4 1434.0 L584.4 1429.3 L584.4 1424.2 L584.4 1418.8 L584.4 1413.0 L584.4 1406.9 L584.4 1400.5 L584.4 1393.9 L584.4 1386.9 L584.4 1379.7 L584.4 1372.3 L584.4 1364.7 L584.4 1356.8 L584.4 1348.9 L584.4 1340.7 L584.4 1332.5 L584.4 1324.1 L584.4 1315.7 L584.4 1307.2 L584.4 1298.7 L584.4 1290.1 L584.4 1281.5 L584.5 1273.0 L584.5 1264.4 L584.5 1256.0 L584.5 1247.6 L584.5 1239.3 L584.5 1231.1 L584.5 1223.1 L584.5 1215.2 L584.5 1207.5 L584.5 1200.0 L584.5 1189.2 L584.5 1177.8 L584.5 1165.7 L584.6 1153.1 L584.6 1139.9 L584.6 1126.3 L584.6 1112.3 L584.7 1097.8 L584.7 1083.0 L584.7 1068.0 L584.7 1052.6 L584.8 1037.0 L584.8 1021.3 L584.8 1005.4 L584.9 989.5 L584.9 973.5 L585.0 957.5 L585.0 941.6 L585.0 925.7 L585.1 910.0 L585.1 894.4 L585.2 879.1 L585.2 864.1 L585.2 849.3 L585.3 834.9 L585.3 820.9 L585.4 807.3 L585.4 794.2 L585.5 781.7 L585.5 769.7 L585.6 758.3 L585.6 747.6 L585.7 737.5 L585.7 728.3 L585.8 719.8 L585.8 712.1 L585.9 705.3 L585.9 699.4 L586.0 694.5 L586.0 690.6 L586.1 686.0 L586.1 682.2 L586.2 678.9 L586.3 676.1 L586.4 673.6 L586.7 670.5 L587.1 668.1 L587.8 666.4 L588.7 665.2 L589.7 664.5 L590.9 664.1 L592.6 663.8 L594.9 663.6 L597.2 663.5 L600.2 663.4 L603.8 663.3 L607.9 663.2 L612.3 663.1 L616.8 663.1 L621.4 663.0 L625.9 662.9 L629.3 662.8 L632.7 662.7 L636.3 662.7 L639.9 662.6 L643.5 662.5 L647.3 662.4 L651.1 662.3 L655.1 662.2 L659.1 662.1 L663.3 662.0 L667.5 662.0 L671.9 661.9 L676.3 661.9 L680.9 661.9 L684.2 661.9 L687.7 661.9 L691.6 661.9 L695.7 661.9 L700.0 661.9 L704.6 661.9 L709.3 661.9 L714.1 661.9 L719.1 661.9 L724.2 661.9 L729.3 661.9 L734.4 661.9 L739.6 661.9 L744.7 661.9 L749.8 661.9 L754.8 661.9 L759.7 661.9 L764.5 661.9 L769.1 661.9 L773.5 661.9 L777.7 661.9 L781.7 661.9 L785.4 661.9 L788.8 661.9 L791.8 661.9 L794.5 661.9 L796.9 661.9 L798.8 661.9 L800.3 661.9 L801.4 661.9 L801.9 661.9 L802.1 661.9 L802.2 661.9 L802.8 662.7 L803.2 664.4 L803.4 666.2 L803.6 668.8 L803.7 672.0 L803.8 675.8 L804.0 680.1 L804.0 684.7 L804.1 689.6 L804.2 694.8 L804.2 700.0 L804.2 702.9 L804.2 706.0 L804.2 709.2 L804.2 712.5 L804.2 716.1 L804.3 719.7 L804.3 723.5 L804.3 727.5 L804.3 731.5 L804.3 735.7 L804.3 740.1 L804.3 744.5 L804.3 749.1 L804.3 753.7 L804.3 758.5 L804.3 763.4 L804.3 768.4 L804.3 773.4 L804.3 778.6 L804.3 783.8 L804.3 789.2 L804.3 794.6 L804.3 800.0 L804.3 805.6 L804.3 811.2 L804.3 816.8 L804.3 822.6 L804.3 828.3 L804.3 834.2 L804.3 840.0 L804.4 845.9 L804.4 851.8 L804.4 857.8 L804.4 863.8 L804.4 869.8 L804.4 875.8 L804.4 881.9 L804.4 887.9 L804.4 894.0 L804.4 900.0 L804.4 910.0 L804.4 920.8 L804.4 932.2 L804.4 944.3 L804.5 956.9 L804.5 970.0 L804.5 983.7 L804.5 997.8 L804.5 1012.2 L804.5 1027.1 L804.5 1042.2 L804.5 1057.6 L804.5 1073.2 L804.6 1089.0 L804.6 1104.9 L804.6 1120.9 L804.6 1136.9 L804.6 1152.9 L804.6 1168.9 L804.7 1184.8 L804.7 1200.5 L804.7 1216.0 L804.7 1231.3 L804.7 1246.3 L804.7 1261.0 L804.8 1275.4 L804.8 1289.3 L804.8 1302.7 L804.8 1315.7 L804.9 1328.1 L804.9 1339.9 L804.9 1351.1 L805.0 1361.5 L805.0 1371.3 L805.0 1380.3 L805.1 1388.4 L805.1 1395.7 L805.1 1402.1 L805.2 1407.6 L805.2 1412.0 L805.3 1417.2 L805.4 1421.7 L805.5 1425.6 L805.7 1429.0 L805.9 1432.1 L806.2 1435.0 L806.8 1438.2 L807.8 1441.1 L809.2 1443.3 L811.0 1444.9 L813.6 1446.2 L816.8 1447.3 L820.3 1448.4 L822.9 1449.1 L825.9 1449.7 L829.2 1450.3 L832.9 1451.0 L836.7 1451.5 L840.7 1452.1 L844.7 1452.6 L848.8 1453.1 L852.9 1453.6 L856.8 1454.0 L860.6 1454.4 L864.3 1454.8 L867.9 1455.2 L871.6 1455.6 L875.3 1455.9 L879.0 1456.3 L882.6 1456.6 L886.3 1456.9 L890.0 1457.2 L893.7 1457.3 L897.3 1457.5 L901.0 1457.5 L904.7 1457.5 L908.3 1457.3 L912.0 1457.1 L915.7 1456.9 L919.3 1456.6 L923.0 1456.3 L926.6 1456.0 L930.3 1455.8 L934.0 1455.6 L937.6 1455.4 L941.3 1455.4 L945.0 1455.5 L948.6 1455.6 L952.3 1455.9 L955.9 1456.2 L959.6 1456.5 L963.2 1456.8 L966.9 1457.2 L970.5 1457.5 L974.2 1457.8 L977.9 1458.0 L981.6 1458.1 L985.6 1458.2 L989.9 1458.2 L994.4 1458.2 L999.0 1458.3 L1003.6 1458.3 L1008.1 1458.3 L1012.2 1458.3 L1015.9 1458.4 L1019.2 1458.4 L1021.7 1458.4 L1023.5 1458.5 L1025.3 1458.7 L1026.1 1458.8 L1026.1 1458.5 L1026.1 1457.6 L1026.1 1456.2 L1026.1 1454.2 L1026.2 1451.8 L1026.2 1448.8 L1026.2 1445.4 L1026.2 1441.5 L1026.2 1437.1 L1026.2 1432.4 L1026.2 1427.3 L1026.2 1421.8 L1026.2 1415.9 L1026.2 1409.7 L1026.2 1403.2 L1026.2 1396.4 L1026.2 1389.4 L1026.2 1382.1 L1026.2 1374.6 L1026.2 1366.8 L1026.2 1358.9 L1026.2 1350.8 L1026.2 1342.6 L1026.2 1334.2 L1026.2 1325.7 L1026.2 1317.2 L1026.2 1308.6 L1026.2 1299.9 L1026.2 1291.2 L1026.2 1282.5 L1026.3 1273.9 L1026.3 1265.2 L1026.3 1256.7 L1026.3 1248.2 L1026.3 1239.8 L1026.3 1231.5 L1026.3 1223.4 L1026.3 1215.4 L1026.3 1207.6 L1026.3 1200.0 L1026.3 1189.2 L1026.3 1177.7 L1026.3 1165.6 L1026.4 1152.9 L1026.4 1139.8 L1026.4 1126.1 L1026.4 1112.1 L1026.5 1097.6 L1026.5 1082.8 L1026.5 1067.7 L1026.5 1052.3 L1026.6 1036.8 L1026.6 1021.0 L1026.6 1005.2 L1026.7 989.2 L1026.7 973.2 L1026.8 957.3 L1026.8 941.3 L1026.8 925.5 L1026.9 909.8 L1026.9 894.2 L1027.0 878.9 L1027.0 863.9 L1027.0 849.1 L1027.1 834.7 L1027.1 820.8 L1027.2 807.2 L1027.2 794.1 L1027.3 781.6 L1027.3 769.6 L1027.4 758.2 L1027.4 747.5 L1027.5 737.5 L1027.5 728.2 L1027.6 719.7 L1027.6 712.1 L1027.7 705.3 L1027.7 699.4 L1027.8 694.5 L1027.8 690.6 L1027.9 686.0 L1027.9 682.2 L1028.0 678.9 L1028.1 676.1 L1028.2 673.6 L1028.5 670.5 L1028.9 668.1 L1029.6 666.4 L1030.5 665.2 L1031.5 664.5 L1032.7 664.1 L1034.4 663.8 L1036.7 663.6 L1039.0 663.5 L1042.0 663.4 L1045.6 663.3 L1049.7 663.2 L1054.1 663.1 L1058.6 663.1 L1063.2 663.0 L1067.7 662.9 L1071.1 662.8 L1074.7 662.7 L1078.4 662.7 L1082.2 662.6 L1086.1 662.5 L1090.1 662.4 L1094.2 662.3 L1098.3 662.2 L1102.4 662.1 L1106.5 662.0 L1110.6 662.0 L1114.7 661.9 L1118.7 661.9 L1122.7 661.9 L1126.6 661.9 L1130.5 661.9 L1134.4 661.9 L1138.3 661.9 L1142.1 662.0 L1146.0 662.0 L1149.9 662.0 L1153.8 662.0 L1157.7 662.0 L1161.6 662.1 L1165.6 662.1 L1169.6 662.1 L1173.6 662.1 L1177.7 662.1 L1181.6 662.1 L1185.9 662.1 L1190.5 662.0 L1195.3 662.0 L1200.3 662.0 L1205.3 661.9 L1210.4 661.8 L1215.3 661.8 L1220.1 661.7 L1224.7 661.7 L1228.9 661.6 L1232.8 661.5 L1236.2 661.5 L1239.1 661.5 L1241.3 661.4 L1242.9 661.4 L1243.7 661.4 L1243.9 661.4 L1244.0 661.4 L1244.6 662.2 L1245.0 663.9 L1245.2 665.5 L1245.3 667.8 L1245.5 670.6 L1245.6 673.9 L1245.7 677.6 L1245.8 681.6 L1245.9 686.0 L1245.9 690.5 L1246.0 695.2 L1246.0 700.0 L1246.0 702.9 L1246.0 706.0 L1246.0 709.2 L1246.0 712.6 L1246.0 716.1 L1246.1 719.8 L1246.1 723.6 L1246.1 727.5 L1246.1 731.6 L1246.1 735.8 L1246.1 740.1 L1246.1 744.6 L1246.1 749.1 L1246.1 753.8 L1246.1 758.6 L1246.1 763.5 L1246.1 768.4 L1246.1 773.5 L1246.1 778.7 L1246.1 783.9 L1246.1 789.2 L1246.1 794.6 L1246.1 800.1 L1246.1 805.6 L1246.1 811.2 L1246.1 816.9 L1246.1 822.6 L1246.1 828.4 L1246.1 834.2 L1246.1 840.0 L1246.2 845.9 L1246.2 851.9 L1246.2 857.8 L1246.2 863.8 L1246.2 869.8 L1246.2 875.8 L1246.2 881.9 L1246.2 887.9 L1246.2 894.0 L1246.2 900.0 L1246.2 910.0 L1246.2 920.8 L1246.2 932.2 L1246.2 944.2 L1246.3 956.8 L1246.3 970.0 L1246.3 983.6 L1246.3 997.6 L1246.3 1012.1 L1246.3 1026.9 L1246.3 1042.0 L1246.4 1057.3 L1246.4 1072.9 L1246.4 1088.6 L1246.4 1104.5 L1246.4 1120.5 L1246.4 1136.5 L1246.5 1152.4 L1246.5 1168.4 L1246.5 1184.2 L1246.5 1199.9 L1246.5 1215.4 L1246.6 1230.7 L1246.6 1245.7 L1246.6 1260.4 L1246.6 1274.7 L1246.7 1288.6 L1246.7 1302.1 L1246.7 1315.0 L1246.7 1327.5 L1246.8 1339.3 L1246.8 1350.5 L1246.8 1361.0 L1246.9 1370.8 L1246.9 1379.9 L1246.9 1388.1 L1247.0 1395.5 L1247.0 1401.9 L1247.1 1407.5 L1247.1 1412.0 L1247.2 1416.8 L1247.2 1421.0 L1247.3 1424.8 L1247.5 1428.1 L1247.6 1431.1 L1247.8 1433.9 L1248.0 1436.4 L1248.7 1439.6 L1249.9 1442.3 L1251.5 1444.5 L1254.1 1446.4 L1257.7 1448.0 L1262.0 1449.5 L1264.7 1450.4 L1267.8 1451.3 L1271.2 1452.2 L1274.8 1453.1 L1278.6 1454.0 L1282.6 1454.8 L1286.7 1455.5 L1290.7 1456.0 L1294.8 1456.4 L1298.2 1456.6 L1301.8 1456.9 L1305.6 1457.1 L1309.4 1457.3 L1313.3 1457.5 L1317.2 1457.7 L1321.1 1457.8 L1325.1 1458.0 L1329.0 1458.1 L1332.9 1458.2 L1336.7 1458.2 L1340.3 1458.3 L1343.9 1458.3 L1347.7 1458.2 L1351.4 1458.0 L1355.0 1457.7 L1358.5 1457.4 L1362.0 1457.0 L1365.5 1456.6 L1369.0 1456.3 L1372.6 1456.0 L1376.2 1455.8 L1380.0 1455.7 L1383.6 1455.8 L1387.4 1456.0 L1391.1 1456.3 L1395.0 1456.7 L1398.9 1457.2 L1402.8 1457.7 L1406.7 1458.1 L1410.6 1458.6 L1414.5 1459.0 L1418.3 1459.3 L1422.1 1459.5 L1425.8 1459.6 L1430.1 1459.6 L1434.7 1459.4 L1439.4 1459.3 L1444.2 1459.0 L1448.9 1458.8 L1453.2 1458.6 L1457.2 1458.3 L1460.7 1458.2 L1463.4 1458.0 L1465.3 1458.0 L1467.1 1458.1 L1467.9 1458.3 L1467.9 1458.0 L1467.9 1457.1 L1467.9 1455.7 L1467.9 1453.8 L1468.0 1451.3 L1468.0 1448.3 L1468.0 1444.9 L1468.0 1441.0 L1468.0 1436.7 L1468.0 1432.0 L1468.0 1426.8 L1468.0 1421.3 L1468.0 1415.5 L1468.0 1409.3 L1468.0 1402.8 L1468.0 1396.1 L1468.0 1389.0 L1468.0 1381.8 L1468.0 1374.2 L1468.0 1366.5 L1468.0 1358.6 L1468.0 1350.5 L1468.0 1342.3 L1468.0 1334.0 L1468.0 1325.5 L1468.0 1317.0 L1468.0 1308.4 L1468.0 1299.7 L1468.0 1291.1 L1468.0 1282.4 L1468.1 1273.7 L1468.1 1265.1 L1468.1 1256.6 L1468.1 1248.1 L1468.1 1239.7 L1468.1 1231.4 L1468.1 1223.3 L1468.1 1215.4 L1468.1 1207.6 L1468.1 1200.0 L1468.1 1189.2 L1468.1 1177.7 L1468.1 1165.6 L1468.2 1153.0 L1468.2 1139.8 L1468.2 1126.2 L1468.2 1112.1 L1468.3 1097.6 L1468.3 1082.8 L1468.3 1067.7 L1468.3 1052.4 L1468.4 1036.8 L1468.4 1021.1 L1468.4 1005.2 L1468.5 989.3 L1468.5 973.3 L1468.6 957.3 L1468.6 941.4 L1468.6 925.5 L1468.7 909.8 L1468.7 894.3 L1468.8 878.9 L1468.8 863.9 L1468.8 849.2 L1468.9 834.8 L1468.9 820.8 L1469.0 807.2 L1469.0 794.1 L1469.1 781.6 L1469.1 769.6 L1469.2 758.2 L1469.2 747.5 L1469.3 737.5 L1469.3 728.2 L1469.4 719.7 L1469.4 712.1 L1469.5 705.3 L1469.5 699.4 L1469.6 694.5 L1469.6 690.6 L1469.7 686.0 L1469.7 682.2 L1469.8 678.9 L1469.9 676.1 L1470.0 673.6 L1470.3 670.5 L1470.7 668.1 L1471.4 666.4 L1472.3 665.2 L1473.3 664.5 L1474.5 664.1 L1476.2 663.8 L1478.5 663.6 L1480.8 663.4 L1483.8 663.3 L1487.4 663.2 L1491.5 663.0 L1495.9 662.9 L1500.4 662.8 L1505.0 662.7 L1509.5 662.6 L1512.9 662.6 L1516.5 662.5 L1520.2 662.5 L1524.0 662.5 L1527.9 662.4 L1531.9 662.4 L1536.0 662.4 L1540.1 662.4 L1544.2 662.3 L1548.3 662.3 L1552.4 662.3 L1556.5 662.3 L1560.5 662.2 L1564.5 662.2 L1568.4 662.2 L1572.3 662.1 L1576.2 662.1 L1580.1 662.0 L1583.9 662.0 L1587.8 662.0 L1591.7 661.9 L1595.6 661.9 L1599.5 661.8 L1603.4 661.8 L1607.4 661.7 L1611.4 661.7 L1615.4 661.6 L1619.5 661.6 L1623.4 661.6 L1627.7 661.5 L1632.3 661.5 L1637.1 661.4 L1642.1 661.4 L1647.1 661.3 L1652.2 661.2 L1657.1 661.2 L1661.9 661.1 L1666.5 661.1 L1670.7 661.0 L1674.6 661.0 L1678.0 661.0 L1680.9 660.9 L1683.1 660.9 L1684.7 660.9 L1685.5 660.9 L1685.7 660.9 L1685.8 660.9 L1686.4 661.7 L1686.8 663.4 L1687.0 665.1 L1687.1 667.3 L1687.3 670.2 L1687.4 673.5 L1687.5 677.3 L1687.6 681.4 L1687.7 685.8 L1687.7 690.4 L1687.8 695.2 L1687.8 700.0 L1687.8 702.9 L1687.8 706.0 L1687.8 709.2 L1687.8 712.6 L1687.8 716.2 L1687.9 719.9 L1687.9 723.7 L1687.9 727.6 L1687.9 731.7 L1687.9 735.9 L1687.9 740.2 L1687.9 744.7 L1687.9 749.2 L1687.9 753.9 L1687.9 758.7 L1687.9 763.6 L1687.9 768.5 L1687.9 773.6 L1687.9 778.7 L1687.9 784.0 L1687.9 789.3 L1687.9 794.7 L1687.9 800.2 L1687.9 805.7 L1687.9 811.3 L1687.9 816.9 L1687.9 822.7 L1687.9 828.4 L1687.9 834.2 L1688.0 840.1 L1688.0 846.0 L1688.0 851.9 L1688.0 857.8 L1688.0 863.8 L1688.0 869.8 L1688.0 875.8 L1688.0 881.9 L1688.0 887.9 L1688.0 894.0 L1688.0 900.0 L1688.0 910.0 L1688.0 920.8 L1688.0 932.2 L1688.0 944.2 L1688.0 956.8 L1688.1 970.0 L1688.1 983.6 L1688.1 997.7 L1688.1 1012.1 L1688.1 1026.9 L1688.1 1042.0 L1688.1 1057.4 L1688.1 1073.0 L1688.1 1088.7 L1688.1 1104.6 L1688.2 1120.6 L1688.2 1136.6 L1688.2 1152.6 L1688.2 1168.5 L1688.2 1184.4 L1688.2 1200.1 L1688.2 1215.6 L1688.2 1230.9 L1688.3 1245.9 L1688.3 1260.6 L1688.3 1274.9 L1688.3 1288.8 L1688.3 1302.3 L1688.3 1315.2 L1688.4 1327.6 L1688.4 1339.5 L1688.4 1350.6 L1688.4 1361.2 L1688.4 1370.9 L1688.5 1380.0 L1688.5 1388.2 L1688.5 1395.5 L1688.5 1402.0 L1688.6 1407.5 L1688.6 1412.0 L1688.6 1416.7 L1688.7 1420.8 L1688.8 1424.4 L1688.9 1427.7 L1689.0 1430.6 L1689.2 1433.4 L1689.4 1436.0 L1690.1 1439.8 L1691.3 1443.1 L1692.9 1445.7 L1695.1 1447.5 L1698.2 1449.0 L1702.1 1450.3 L1706.3 1451.4 L1709.1 1452.1 L1712.2 1452.8 L1715.7 1453.5 L1719.4 1454.2 L1723.4 1454.9 L1727.5 1455.5 L1731.8 1456.1 L1736.1 1456.6 L1740.4 1457.0 L1744.6 1457.3 L1748.7 1457.5 L1752.7 1457.6 L1756.6 1457.6 L1760.4 1457.5 L1764.3 1457.3 L1768.1 1457.2 L1772.0 1457.0 L1775.8 1456.8 L1779.7 1456.6 L1783.6 1456.4 L1787.4 1456.2 L1791.3 1456.1 L1795.1 1456.0 L1799.0 1456.0 L1802.8 1456.1 L1806.6 1456.2 L1810.4 1456.4 L1814.2 1456.7 L1818.0 1457.1 L1821.7 1457.4 L1825.5 1457.8 L1829.4 1458.2 L1833.3 1458.5 L1837.2 1458.8 L1841.2 1459.0 L1845.3 1459.1 L1849.1 1459.2 L1853.2 1459.2 L1857.6 1459.3 L1862.3 1459.3 L1867.0 1459.3 L1871.8 1459.4 L1876.6 1459.4 L1881.4 1459.4 L1885.9 1459.4 L1890.3 1459.5 L1894.3 1459.5 L1898.0 1459.5 L1901.2 1459.6 L1903.9 1459.6 L1906.0 1459.6 L1907.4 1459.7 L1909.0 1459.9 L1909.7 1460.0 L1909.7 1459.7 L1909.7 1458.8 L1909.7 1457.4 L1909.7 1455.4 L1909.8 1452.9 L1909.8 1450.0 L1909.8 1446.5 L1909.8 1442.6 L1909.8 1438.2 L1909.8 1433.5 L1909.8 1428.3 L1909.8 1422.8 L1909.8 1416.9 L1909.8 1410.7 L1909.8 1404.2 L1909.8 1397.3 L1909.8 1390.3 L1909.8 1382.9 L1909.8 1375.4 L1909.8 1367.6 L1909.8 1359.6 L1909.8 1351.5 L1909.8 1343.2 L1909.8 1334.8 L1909.8 1326.3 L1909.8 1317.7 L1909.8 1309.1 L1909.8 1300.4 L1909.8 1291.6 L1909.8 1282.9 L1909.9 1274.2 L1909.9 1265.5 L1909.9 1256.9 L1909.9 1248.4 L1909.9 1239.9 L1909.9 1231.6 L1909.9 1223.5 L1909.9 1215.5 L1909.9 1207.6 L1909.9 1200.0 L1909.9 1189.1 L1909.9 1177.6 L1909.9 1165.5 L1910.0 1152.8 L1910.0 1139.6 L1910.0 1125.9 L1910.0 1111.8 L1910.1 1097.3 L1910.1 1082.5 L1910.1 1067.3 L1910.1 1051.9 L1910.2 1036.3 L1910.2 1020.5 L1910.2 1004.6 L1910.3 988.6 L1910.3 972.6 L1910.4 956.6 L1910.4 940.6 L1910.4 924.7 L1910.5 909.0 L1910.5 893.4 L1910.6 878.0 L1910.6 863.0 L1910.6 848.2 L1910.7 833.8 L1910.7 819.7 L1910.8 806.1 L1910.8 793.0 L1910.9 780.5 L1910.9 768.5 L1911.0 757.1 L1911.0 746.3 L1911.1 736.3 L1911.1 727.0 L1911.2 718.5 L1911.2 710.8 L1911.3 704.0 L1911.3 698.1 L1911.4 693.2 L1911.4 689.3 L1911.5 684.7 L1911.5 680.9 L1911.6 677.6 L1911.7 674.8 L1911.8 672.3 L1912.1 669.2 L1912.5 666.8 L1913.2 665.1 L1914.1 663.9 L1915.1 663.2 L1916.3 662.8 L1918.1 662.5 L1920.3 662.3 L1923.3 662.0 L1927.0 661.7 L1931.3 661.5 L1934.0 661.4 L1937.0 661.3 L1940.3 661.2 L1943.9 661.1 L1947.7 661.0 L1951.6 660.9 L1955.5 660.8 L1959.5 660.7 L1963.4 660.6 L1967.3 660.5 L1970.9 660.4 L1974.4 660.3 L1978.1 660.2 L1981.7 660.2 L1985.4 660.1 L1989.2 660.0 L1992.9 659.9 L1996.8 659.8 L2000.6 659.8 L2004.5 659.7 L2008.4 659.7 L2012.3 659.6 L2015.9 659.6 L2019.5 659.5 L2023.1 659.5 L2026.9 659.5 L2030.6 659.4 L2034.4 659.4 L2038.2 659.4 L2042.0 659.3 L2045.8 659.3 L2049.6 659.3 L2053.4 659.2 L2057.2 659.2 L2060.9 659.2 L2064.6 659.1 L2068.3 659.1 L2072.4 659.0 L2076.8 659.0 L2081.2 658.9 L2085.7 658.8 L2090.3 658.8 L2094.7 658.7 L2099.1 658.6 L2103.3 658.5 L2107.2 658.5 L2110.8 658.4 L2114.1 658.3 L2116.9 658.3 L2119.3 658.2 L2122.8 658.1 L2125.7 658.0 L2127.3 658.0 L2127.5 658.0 L2127.6 658.0 L2128.2 658.8 L2128.6 660.5 L2128.8 662.3 L2128.9 664.7 L2129.1 667.8 L2129.2 671.4 L2129.3 675.5 L2129.4 679.9 L2129.5 684.7 L2129.5 689.7 L2129.6 694.8 L2129.6 700.0 L2129.6 703.0 L2129.6 706.2 L2129.6 709.5 L2129.6 712.9 L2129.6 716.5 L2129.7 720.2 L2129.7 724.1 L2129.7 728.1 L2129.7 732.2 L2129.7 736.4 L2129.7 740.7 L2129.7 745.2 L2129.7 749.8 L2129.7 754.4 L2129.7 759.2 L2129.7 764.1 L2129.7 769.0 L2129.7 774.1 L2129.7 779.2 L2129.7 784.4 L2129.7 789.7 L2129.7 795.1 L2129.7 800.5 L2129.7 806.0 L2129.7 811.6 L2129.7 817.2 L2129.7 822.9 L2129.7 828.6 L2129.7 834.4 L2129.7 840.2 L2129.7 846.1 L2129.8 852.0 L2129.8 857.9 L2129.8 863.9 L2129.8 869.9 L2129.8 875.9 L2129.8 881.9 L2129.8 887.9 L2129.8 894.0 L2129.8 900.0 L2129.8 910.0 L2129.8 920.8 L2129.8 932.2 L2129.9 944.3 L2129.9 956.9 L2129.9 970.1 L2129.9 983.7 L2129.9 997.8 L2129.9 1012.3 L2130.0 1027.2 L2130.0 1042.3 L2130.0 1057.7 L2130.0 1073.3 L2130.1 1089.1 L2130.1 1105.1 L2130.1 1121.1 L2130.1 1137.1 L2130.2 1153.1 L2130.2 1169.1 L2130.2 1185.0 L2130.3 1200.7 L2130.3 1216.3 L2130.3 1231.6 L2130.4 1246.6 L2130.4 1261.3 L2130.4 1275.6 L2130.5 1289.6 L2130.5 1303.0 L2130.6 1316.0 L2130.6 1328.3 L2130.6 1340.1 L2130.7 1351.3 L2130.7 1361.8 L2130.8 1371.5 L2130.8 1380.5 L2130.9 1388.6 L2130.9 1395.9 L2131.0 1402.2 L2131.0 1407.6 L2131.1 1412.0 L2131.2 1417.0 L2131.3 1421.2 L2131.4 1424.9 L2131.6 1428.2 L2131.8 1431.3 L2132.0 1434.4 L2132.6 1438.0 L2133.8 1441.6 L2135.3 1444.6 L2137.2 1446.8 L2139.0 1447.9 L2141.6 1448.9 L2144.8 1449.8 L2148.5 1450.6 L2152.6 1451.3 L2156.9 1451.9 L2161.2 1452.5 L2165.5 1453.1 L2169.6 1453.6 L2173.2 1454.1 L2176.9 1454.5 L2180.8 1455.0 L2184.7 1455.4 L2188.7 1455.9 L2192.8 1456.3 L2196.8 1456.6 L2200.8 1457.0 L2204.8 1457.2 L2208.6 1457.4 L2212.3 1457.6 L2215.9 1457.6 L2220.1 1457.6 L2224.2 1457.5 L2228.2 1457.5 L2232.1 1457.4 L2236.0 1457.3 L2239.7 1457.2 L2243.3 1457.1 L2246.8 1457.0 L2250.4 1456.9 L2254.0 1456.7 L2257.4 1456.6 L2260.7 1456.4 L2263.8 1456.2 L2266.9 1456.0"/>
</g>
<g stroke="#000" stroke-width="7.0" fill="none" stroke-linecap="butt">
<rect x="370.7" y="66.9" width="1930.7" height="1560.6"/>
<path d="M546.2 66.9 v14.6 M546.2 1627.5 v-14.6 M721.7 66.9 v30.3 M721.7 1627.5 v-30.3 M897.3 66.9 v14.6 M897.3 1627.5 v-14.6 M1072.8 66.9 v30.3 M1072.8 1627.5 v-30.3 M1248.3 66.9 v14.6 M1248.3 1627.5 v-14.6 M1423.8 66.9 v30.3 M1423.8 1627.5 v-30.3 M1599.3 66.9 v14.6 M1599.3 1627.5 v-14.6 M1774.9 66.9 v30.3 M1774.9 1627.5 v-30.3 M1950.4 66.9 v14.6 M1950.4 1627.5 v-14.6 M2125.9 66.9 v30.3 M2125.9 1627.5 v-30.3 M370.7 186.9 h14.6 M2301.4 186.9 h-14.6 M370.7 307.0 h30.3 M2301.4 307.0 h-30.3 M370.7 427.0 h14.6 M2301.4 427.0 h-14.6 M370.7 547.1 h30.3 M2301.4 547.1 h-30.3 M370.7 667.1 h14.6 M2301.4 667.1 h-14.6 M370.7 787.2 h30.3 M2301.4 787.2 h-30.3 M370.7 907.2 h14.6 M2301.4 907.2 h-14.6 M370.7 1027.2 h30.3 M2301.4 1027.2 h-30.3 M370.7 1147.3 h14.6 M2301.4 1147.3 h-14.6 M370.7 1267.3 h30.3 M2301.4 1267.3 h-30.3 M370.7 1387.4 h14.6 M2301.4 1387.4 h-14.6 M370.7 1507.4 h30.3 M2301.4 1507.4 h-30.3"/>
</g>
<text transform="translate(337.5 90.3) scale(1 1.040)" font-size="81.0" text-anchor="end" fill="#000">−0.5</text>
<text transform="translate(337.5 330.4) scale(1 1.040)" font-size="81.0" text-anchor="end" fill="#000">−1.0</text>
<text transform="translate(337.5 570.5) scale(1 1.040)" font-size="81.0" text-anchor="end" fill="#000">−1.5</text>
<text transform="translate(337.5 810.6) scale(1 1.040)" font-size="81.0" text-anchor="end" fill="#000">−2.0</text>
<text transform="translate(337.5 1050.6) scale(1 1.040)" font-size="81.0" text-anchor="end" fill="#000">−2.5</text>
<text transform="translate(337.5 1290.7) scale(1 1.040)" font-size="81.0" text-anchor="end" fill="#000">−3.0</text>
<text transform="translate(337.5 1530.8) scale(1 1.040)" font-size="81.0" text-anchor="end" fill="#000">−3.5</text>
<text transform="translate(370.7 1723.0) scale(1 1.040)" font-size="81.0" text-anchor="middle" fill="#000">0</text>
<text transform="translate(721.7 1723.0) scale(1 1.040)" font-size="81.0" text-anchor="middle" fill="#000">100</text>
<text transform="translate(1072.8 1723.0) scale(1 1.040)" font-size="81.0" text-anchor="middle" fill="#000">200</text>
<text transform="translate(1423.8 1723.0) scale(1 1.040)" font-size="81.0" text-anchor="middle" fill="#000">300</text>
<text transform="translate(1774.9 1723.0) scale(1 1.040)" font-size="81.0" text-anchor="middle" fill="#000">400</text>
<text transform="translate(2125.9 1723.0) scale(1 1.040)" font-size="81.0" text-anchor="middle" fill="#000">500</text>
<text transform="translate(1339.0 1880.7) scale(1 1.026)" font-size="110.5" text-anchor="middle" fill="#000" font-style="italic">Time / s</text>
<text transform="translate(138.0 843.5) rotate(-90) scale(1 1.026)" font-size="110.5" text-anchor="middle" fill="#000" font-style="italic">Potential vs. <tspan dx="9">C</tspan><tspan dx="-9">E</tspan> / V</text>
<line x1="935.2" y1="182.1" x2="1115.4" y2="182.1" stroke="#000" stroke-width="5.8" stroke-linecap="round"/>
<text transform="translate(1137.5 208.8) scale(1 1.040)" font-size="81.0" text-anchor="start" fill="#000">200 mA·g<tspan font-size="53.5" dy="-31">−1</tspan></text>
<line x1="935.2" y1="306.1" x2="1115.4" y2="306.1" stroke="#00ff00" stroke-width="5.8" stroke-linecap="round"/>
<text transform="translate(1137.5 332.8) scale(1 1.040)" font-size="81.0" text-anchor="start" fill="#000">50 mA·g<tspan font-size="53.5" dy="-31">−1</tspan></text>
<line x1="1669.2" y1="182.1" x2="1849.4" y2="182.1" stroke="#ff0000" stroke-width="5.8" stroke-linecap="round"/>
<text transform="translate(1871.5 208.8) scale(1 1.040)" font-size="81.0" text-anchor="start" fill="#000">60 mA·g<tspan font-size="53.5" dy="-31">−1</tspan></text>
<line x1="1669.2" y1="306.1" x2="1849.4" y2="306.1" stroke="#0000ff" stroke-width="5.8" stroke-linecap="round"/>
<text transform="translate(1871.5 332.8) scale(1 1.040)" font-size="81.0" text-anchor="start" fill="#000">20 mA·g<tspan font-size="53.5" dy="-31">−1</tspan></text>
<text transform="translate(586.1 348.0) scale(1 1.040)" font-size="81.0" text-anchor="middle" fill="#000">ON</text>
<text transform="translate(799.6 348.0) scale(1 1.040)" font-size="81.0" text-anchor="middle" fill="#000">OFF</text>
<text transform="translate(587.5 1553.0) scale(1 1.040)" font-size="81.0" text-anchor="start" fill="#000">0.05 V</text>
<line x1="586.4" y1="368.6" x2="586.4" y2="434.9" stroke="#000" stroke-width="9.3"/>
<polygon fill="#000" points="586.4,485.0 564.8,398.8 586.4,427.0 608.0,398.8"/>
<line x1="803.4" y1="365.9" x2="803.4" y2="439.1" stroke="#000" stroke-width="9.3"/>
<polygon fill="#000" points="803.4,489.1 781.8,402.9 803.4,431.1 825.0,402.9"/>
<line x1="986.2" y1="719.8" x2="986.2" y2="1392.3" stroke="#ff0000" stroke-width="8.9"/>
<polygon fill="#ff0000" points="986.2,669.8 1008.0,755.3 986.2,726.8 964.4,755.3"/>
<polygon fill="#ff0000" points="986.2,1442.3 964.4,1356.8 986.2,1385.3 1008.0,1356.8"/>
<line x1="1431.5" y1="673.0" x2="1431.5" y2="1404.7" stroke="#00ff00" stroke-width="8.9"/>
<polygon fill="#00ff00" points="1431.5,623.0 1453.3,708.5 1431.5,680.0 1409.7,708.5"/>
<polygon fill="#00ff00" points="1431.5,1454.7 1409.7,1369.2 1431.5,1397.7 1453.3,1369.2"/>
<line x1="1859.0" y1="559.0" x2="1859.0" y2="1285.0" stroke="#0000ff" stroke-width="8.9"/>
<polygon fill="#0000ff" points="1859.0,509.0 1880.8,594.5 1859.0,566.0 1837.2,594.5"/>
<polygon fill="#0000ff" points="1859.0,1335.0 1837.2,1249.5 1859.0,1278.0 1880.8,1249.5"/>
<line x1="844.3" y1="1531.9" x2="925.0" y2="1547.3" stroke="#000" stroke-width="9.2"/>
<polygon fill="#000" points="974.1,1556.7 886.0,1562.1 918.1,1546.0 894.2,1519.2"/>
<text transform="translate(959.4 1164.0) rotate(-90) scale(1 1.040)" font-size="81.0" text-anchor="start" fill="#ff0000">1.66 V</text>
<text transform="translate(1403.7 1164.0) rotate(-90) scale(1 1.040)" font-size="81.0" text-anchor="start" fill="#00ff00">1.72 V</text>
<text transform="translate(1833.7 1164.0) rotate(-90) scale(1 1.040)" font-size="81.0" text-anchor="start" fill="#0000ff">1.81 V</text>
</svg></body></html>
